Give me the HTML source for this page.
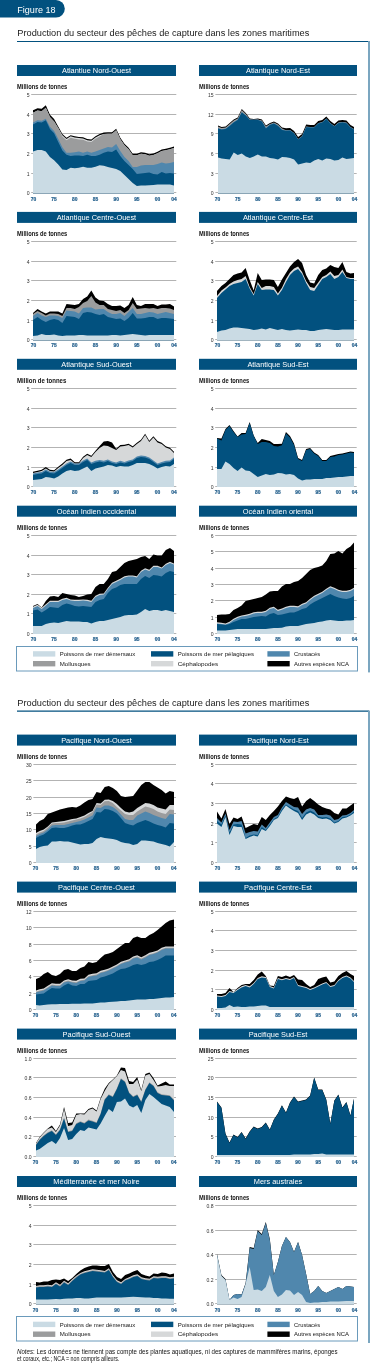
<!DOCTYPE html>
<html><head><meta charset="utf-8"><style>
html,body{margin:0;padding:0;background:#fff;}
svg{display:block;font-family:"Liberation Sans",sans-serif;will-change:transform;}
</style></head><body>
<svg width="370" height="1363" viewBox="0 0 370 1363">
<path d="M0,0 H56 A8.8,8.8 0 0 1 56,17.6 H0 Z" fill="#02517f"/>
<text x="17.3" y="12.7" font-size="9.6" fill="#fff" font-weight="normal" text-anchor="start" textLength="38.2" lengthAdjust="spacingAndGlyphs">Figure 18</text>
<text x="17.3" y="36.4" font-size="9.2" fill="#1a1a1a" font-weight="normal" text-anchor="start" textLength="292" lengthAdjust="spacingAndGlyphs">Production du secteur des pêches de capture dans les zones maritimes</text>
<line x1="17" y1="41.5" x2="369" y2="41.5" stroke="#02517f" stroke-width="1.1"/>
<rect x="368" y="41" width="2" height="631.4" fill="#7ba6c0"/>
<text x="17.3" y="706.0" font-size="9.2" fill="#1a1a1a" font-weight="normal" text-anchor="start" textLength="292" lengthAdjust="spacingAndGlyphs">Production du secteur des pêches de capture dans les zones maritimes</text>
<line x1="17" y1="711.1" x2="369" y2="711.1" stroke="#02517f" stroke-width="1.1"/>
<rect x="368" y="710.6" width="2" height="632.4044" fill="#7ba6c0"/>
<rect x="16.5" y="646.5" width="341" height="24.5" fill="none" stroke="#6a9abb" stroke-width="1"/>
<rect x="33" y="651.2" width="22.3" height="5.4" fill="#cadbe4"/>
<text x="59.7" y="656.1" font-size="6.2" fill="#151515" font-weight="normal" text-anchor="start" textLength="75.6" lengthAdjust="spacingAndGlyphs">Poissons de mer démersaux</text>
<rect x="151" y="651.2" width="22.3" height="5.4" fill="#02517f"/>
<text x="177.7" y="656.1" font-size="6.2" fill="#151515" font-weight="normal" text-anchor="start" textLength="76.4" lengthAdjust="spacingAndGlyphs">Poissons de mer pélagiques</text>
<rect x="267.4" y="651.2" width="22.3" height="5.4" fill="#5087ad"/>
<text x="294.09999999999997" y="656.1" font-size="6.2" fill="#151515" font-weight="normal" text-anchor="start" textLength="26" lengthAdjust="spacingAndGlyphs">Crustacés</text>
<rect x="33" y="661.0" width="22.3" height="5.4" fill="#9b9c9d"/>
<text x="59.7" y="665.9" font-size="6.2" fill="#151515" font-weight="normal" text-anchor="start" textLength="31" lengthAdjust="spacingAndGlyphs">Mollusques</text>
<rect x="151" y="661.0" width="22.3" height="5.4" fill="#d6d8d9"/>
<text x="177.7" y="665.9" font-size="6.2" fill="#151515" font-weight="normal" text-anchor="start" textLength="40.5" lengthAdjust="spacingAndGlyphs">Céphalopodes</text>
<rect x="267.4" y="661.0" width="22.3" height="5.4" fill="#000000"/>
<text x="294.09999999999997" y="665.9" font-size="6.2" fill="#151515" font-weight="normal" text-anchor="start" textLength="54.8" lengthAdjust="spacingAndGlyphs">Autres espèces NCA</text>
<rect x="16.5" y="1316.5" width="341" height="24.5" fill="none" stroke="#6a9abb" stroke-width="1"/>
<rect x="33" y="1321.7" width="22.3" height="5.4" fill="#cadbe4"/>
<text x="59.7" y="1326.6000000000001" font-size="6.2" fill="#151515" font-weight="normal" text-anchor="start" textLength="75.6" lengthAdjust="spacingAndGlyphs">Poissons de mer démersaux</text>
<rect x="151" y="1321.7" width="22.3" height="5.4" fill="#02517f"/>
<text x="177.7" y="1326.6000000000001" font-size="6.2" fill="#151515" font-weight="normal" text-anchor="start" textLength="76.4" lengthAdjust="spacingAndGlyphs">Poissons de mer pélagiques</text>
<rect x="267.4" y="1321.7" width="22.3" height="5.4" fill="#5087ad"/>
<text x="294.09999999999997" y="1326.6000000000001" font-size="6.2" fill="#151515" font-weight="normal" text-anchor="start" textLength="26" lengthAdjust="spacingAndGlyphs">Crustacés</text>
<rect x="33" y="1331.5" width="22.3" height="5.4" fill="#9b9c9d"/>
<text x="59.7" y="1336.4" font-size="6.2" fill="#151515" font-weight="normal" text-anchor="start" textLength="31" lengthAdjust="spacingAndGlyphs">Mollusques</text>
<rect x="151" y="1331.5" width="22.3" height="5.4" fill="#d6d8d9"/>
<text x="177.7" y="1336.4" font-size="6.2" fill="#151515" font-weight="normal" text-anchor="start" textLength="40.5" lengthAdjust="spacingAndGlyphs">Céphalopodes</text>
<rect x="267.4" y="1331.5" width="22.3" height="5.4" fill="#000000"/>
<text x="294.09999999999997" y="1336.4" font-size="6.2" fill="#151515" font-weight="normal" text-anchor="start" textLength="54.8" lengthAdjust="spacingAndGlyphs">Autres espèces NCA</text>
<rect x="17" y="65" width="159" height="11" fill="#02517f"/>
<text x="96.5" y="72.9" font-size="7.4" fill="#fff" font-weight="normal" text-anchor="middle">Atlantiue Nord-Ouest</text>
<text x="17" y="89.0" font-size="6.3" fill="#111" font-weight="bold" text-anchor="start" textLength="50.3" lengthAdjust="spacingAndGlyphs">Millions de tonnes</text>
<line x1="31.2" y1="192.5" x2="33" y2="192.5" stroke="#b3b3b3" stroke-width="1"/>
<line x1="174" y1="192.5" x2="176.29999999999998" y2="192.5" stroke="#b3b3b3" stroke-width="1"/>
<text x="29.5" y="195.0" font-size="5.1" fill="#333" font-weight="normal" text-anchor="end">0</text>
<line x1="31.2" y1="173.5" x2="176.29999999999998" y2="173.5" stroke="#b3b3b3" stroke-width="1"/>
<text x="29.5" y="176.0" font-size="5.1" fill="#333" font-weight="normal" text-anchor="end">1</text>
<line x1="31.2" y1="153.5" x2="176.29999999999998" y2="153.5" stroke="#b3b3b3" stroke-width="1"/>
<text x="29.5" y="156.0" font-size="5.1" fill="#333" font-weight="normal" text-anchor="end">2</text>
<line x1="31.2" y1="133.5" x2="176.29999999999998" y2="133.5" stroke="#b3b3b3" stroke-width="1"/>
<text x="29.5" y="136.0" font-size="5.1" fill="#333" font-weight="normal" text-anchor="end">3</text>
<line x1="31.2" y1="114.5" x2="176.29999999999998" y2="114.5" stroke="#b3b3b3" stroke-width="1"/>
<text x="29.5" y="117.0" font-size="5.1" fill="#333" font-weight="normal" text-anchor="end">4</text>
<line x1="31.2" y1="94.5" x2="176.29999999999998" y2="94.5" stroke="#b3b3b3" stroke-width="1"/>
<text x="29.5" y="97.0" font-size="5.1" fill="#333" font-weight="normal" text-anchor="end">5</text>
<polygon points="33,193.30 33.00,110.34 37.54,108.18 41.68,108.83 45.81,105.37 49.95,114.66 54.09,118.99 58.23,126.56 62.37,134.12 66.51,137.80 70.64,135.21 74.78,136.29 78.92,136.94 83.06,137.37 87.20,139.10 91.34,139.53 95.47,136.29 99.61,134.12 103.75,132.61 107.89,132.20 112.03,132.20 116.16,128.80 120.30,137.80 124.44,143.80 128.58,147.80 132.72,153.80 136.86,153.80 140.99,152.20 145.13,152.80 149.27,154.20 153.41,153.40 157.55,151.80 161.69,149.40 165.82,148.80 169.96,147.80 174.00,146.40 174,193.30" fill="#000000"/>
<polygon points="33,193.30 33.00,112.74 37.54,110.58 41.68,111.23 45.81,107.77 49.95,117.06 54.09,121.39 58.23,128.06 62.37,135.22 66.51,138.90 70.64,136.31 74.78,137.39 78.92,138.04 83.06,138.47 87.20,140.20 91.34,140.63 95.47,137.39 99.61,135.22 103.75,134.11 107.89,133.70 112.03,133.70 116.16,130.30 120.30,139.30 124.44,145.30 128.58,149.30 132.72,155.30 136.86,155.30 140.99,153.70 145.13,154.30 149.27,155.70 153.41,154.90 157.55,153.30 161.69,150.90 165.82,150.30 169.96,149.30 174.00,147.90 174,193.30" fill="#d6d8d9"/>
<polygon points="33,193.30 33.00,112.74 37.54,110.58 41.68,111.23 45.81,107.77 49.95,117.06 54.09,121.39 58.23,128.06 62.37,136.62 66.51,140.30 70.64,137.71 74.78,138.79 78.92,139.44 83.06,139.87 87.20,141.60 91.34,142.03 95.47,138.79 99.61,136.62 103.75,134.11 107.89,133.70 112.03,133.70 116.16,130.30 120.30,139.30 124.44,145.30 128.58,149.30 132.72,155.30 136.86,155.30 140.99,153.70 145.13,154.30 149.27,155.70 153.41,154.90 157.55,153.30 161.69,150.90 165.82,150.30 169.96,149.30 174.00,147.90 174,193.30" fill="#9b9c9d"/>
<polygon points="33,193.30 33.00,122.43 37.54,120.27 41.68,120.70 45.81,118.76 49.95,126.76 54.09,131.08 58.23,138.65 62.37,147.30 66.51,152.70 70.64,152.70 74.78,152.27 78.92,151.62 83.06,152.70 87.20,151.62 91.34,152.70 95.47,151.62 99.61,150.11 103.75,148.38 107.89,147.00 112.03,147.60 116.16,144.00 120.30,151.00 124.44,157.00 128.58,161.00 132.72,167.00 136.86,167.00 140.99,165.60 145.13,165.00 149.27,165.00 153.41,165.00 157.55,164.00 161.69,162.40 165.82,163.60 169.96,163.00 174.00,162.00 174,193.30" fill="#5087ad"/>
<polygon points="33,193.30 33.00,124.59 37.54,122.00 41.68,122.43 45.81,120.27 49.95,128.92 54.09,133.24 58.23,141.89 62.37,150.54 66.51,154.86 70.64,155.95 74.78,155.51 78.92,155.51 83.06,155.95 87.20,154.86 91.34,155.95 95.47,155.95 99.61,154.86 103.75,152.70 107.89,151.60 112.03,152.00 116.16,149.60 120.30,156.00 124.44,161.00 128.58,165.00 132.72,169.00 136.86,174.00 140.99,173.60 145.13,173.00 149.27,172.40 153.41,174.00 157.55,174.40 161.69,172.00 165.82,173.60 169.96,173.00 174.00,173.60 174,193.30" fill="#02517f"/>
<polygon points="33,193.30 33.00,151.62 37.54,150.11 41.68,150.11 45.81,151.62 49.95,157.03 54.09,160.27 58.23,164.59 62.37,169.57 66.51,170.00 70.64,167.84 74.78,168.27 78.92,167.84 83.06,166.76 87.20,167.84 91.34,167.84 95.47,166.76 99.61,165.24 103.75,165.68 107.89,167.00 112.03,168.00 116.16,169.00 120.30,171.00 124.44,175.00 128.58,179.00 132.72,183.00 136.86,186.00 140.99,185.60 145.13,185.60 149.27,185.20 153.41,185.00 157.55,184.60 161.69,184.60 165.82,184.60 169.96,184.60 174.00,185.60 174,193.30" fill="#cadbe4"/>
<text x="33.4" y="200.5" font-size="4.9" fill="#235f8c" font-weight="bold" text-anchor="middle" stroke="#235f8c" stroke-width="0.2">70</text>
<text x="54.09117647058824" y="200.5" font-size="4.9" fill="#235f8c" font-weight="bold" text-anchor="middle" stroke="#235f8c" stroke-width="0.2">75</text>
<text x="74.78235294117647" y="200.5" font-size="4.9" fill="#235f8c" font-weight="bold" text-anchor="middle" stroke="#235f8c" stroke-width="0.2">80</text>
<text x="95.4735294117647" y="200.5" font-size="4.9" fill="#235f8c" font-weight="bold" text-anchor="middle" stroke="#235f8c" stroke-width="0.2">85</text>
<text x="116.16470588235293" y="200.5" font-size="4.9" fill="#235f8c" font-weight="bold" text-anchor="middle" stroke="#235f8c" stroke-width="0.2">90</text>
<text x="136.85588235294117" y="200.5" font-size="4.9" fill="#235f8c" font-weight="bold" text-anchor="middle" stroke="#235f8c" stroke-width="0.2">95</text>
<text x="157.5470588235294" y="200.5" font-size="4.9" fill="#235f8c" font-weight="bold" text-anchor="middle" stroke="#235f8c" stroke-width="0.2">00</text>
<text x="174.1" y="200.5" font-size="4.9" fill="#235f8c" font-weight="bold" text-anchor="middle" stroke="#235f8c" stroke-width="0.2">04</text>
<rect x="199" y="65" width="158" height="11" fill="#02517f"/>
<text x="278.0" y="72.9" font-size="7.4" fill="#fff" font-weight="normal" text-anchor="middle">Atlantique Nord-Est</text>
<text x="199" y="89.0" font-size="6.3" fill="#111" font-weight="bold" text-anchor="start" textLength="50.3" lengthAdjust="spacingAndGlyphs">Millions de tonnes</text>
<line x1="215.4" y1="192.5" x2="218" y2="192.5" stroke="#b3b3b3" stroke-width="1"/>
<line x1="354" y1="192.5" x2="356.7" y2="192.5" stroke="#b3b3b3" stroke-width="1"/>
<text x="213.7" y="195.0" font-size="5.1" fill="#333" font-weight="normal" text-anchor="end">0</text>
<line x1="215.4" y1="173.5" x2="356.7" y2="173.5" stroke="#b3b3b3" stroke-width="1"/>
<text x="213.7" y="176.0" font-size="5.1" fill="#333" font-weight="normal" text-anchor="end">3</text>
<line x1="215.4" y1="153.5" x2="356.7" y2="153.5" stroke="#b3b3b3" stroke-width="1"/>
<text x="213.7" y="156.0" font-size="5.1" fill="#333" font-weight="normal" text-anchor="end">6</text>
<line x1="215.4" y1="133.5" x2="356.7" y2="133.5" stroke="#b3b3b3" stroke-width="1"/>
<text x="213.7" y="136.0" font-size="5.1" fill="#333" font-weight="normal" text-anchor="end">9</text>
<line x1="215.4" y1="114.5" x2="356.7" y2="114.5" stroke="#b3b3b3" stroke-width="1"/>
<text x="213.7" y="117.0" font-size="5.1" fill="#333" font-weight="normal" text-anchor="end">12</text>
<line x1="215.4" y1="94.5" x2="356.7" y2="94.5" stroke="#b3b3b3" stroke-width="1"/>
<text x="213.7" y="97.0" font-size="5.1" fill="#333" font-weight="normal" text-anchor="end">15</text>
<polygon points="218,193.30 218.00,125.60 221.63,127.00 225.65,126.40 229.68,123.00 233.71,119.40 237.73,117.60 241.76,109.00 245.79,113.00 249.81,118.40 253.84,119.00 257.86,118.60 261.89,119.60 265.92,125.60 269.94,123.00 273.97,121.40 278.00,123.60 282.02,127.60 286.05,128.20 290.08,128.00 294.10,131.00 298.13,137.00 302.16,134.00 306.18,124.60 310.21,125.00 314.24,125.00 318.26,121.00 322.29,120.00 326.31,116.40 330.34,121.00 334.37,124.00 338.39,120.60 342.42,120.00 346.45,120.60 350.47,125.00 354.00,127.00 354,193.30" fill="#000000"/>
<polygon points="218,193.30 218.00,126.60 221.63,128.00 225.65,127.40 229.68,124.00 233.71,120.40 237.73,118.60 241.76,110.00 245.79,114.00 249.81,119.40 253.84,120.00 257.86,119.60 261.89,120.60 265.92,126.60 269.94,124.00 273.97,122.40 278.00,124.60 282.02,128.60 286.05,130.20 290.08,130.00 294.10,133.00 298.13,139.00 302.16,136.00 306.18,126.60 310.21,127.00 314.24,127.00 318.26,123.00 322.29,122.00 326.31,118.40 330.34,123.00 334.37,126.00 338.39,122.60 342.42,122.00 346.45,122.60 350.47,127.00 354.00,129.00 354,193.30" fill="#9b9c9d"/>
<polygon points="218,193.30 218.00,128.20 221.63,129.20 225.65,128.60 229.68,125.60 233.71,122.00 237.73,119.60 241.76,112.00 245.79,115.20 249.81,119.60 253.84,119.60 257.86,119.60 261.89,121.20 265.92,128.00 269.94,124.60 273.97,123.20 278.00,125.60 282.02,129.60 286.05,130.40 290.08,130.20 294.10,133.20 298.13,139.20 302.16,136.20 306.18,126.80 310.21,127.20 314.24,127.20 318.26,123.20 322.29,122.20 326.31,118.60 330.34,123.20 334.37,126.20 338.39,122.80 342.42,122.20 346.45,122.80 350.47,127.20 354.00,129.20 354,193.30" fill="#5087ad"/>
<polygon points="218,193.30 218.00,128.60 221.63,129.60 225.65,129.00 229.68,126.00 233.71,122.40 237.73,120.00 241.76,112.40 245.79,115.60 249.81,120.00 253.84,120.00 257.86,120.00 261.89,121.60 265.92,128.40 269.94,125.00 273.97,123.60 278.00,126.00 282.02,130.00 286.05,130.80 290.08,130.60 294.10,133.60 298.13,139.60 302.16,136.60 306.18,127.20 310.21,127.60 314.24,127.60 318.26,123.60 322.29,122.60 326.31,119.00 330.34,123.60 334.37,126.60 338.39,123.20 342.42,122.60 346.45,123.20 350.47,127.60 354.00,129.60 354,193.30" fill="#02517f"/>
<polygon points="218,193.30 218.00,157.60 221.63,158.40 225.65,159.00 229.68,159.40 233.71,152.40 237.73,155.00 241.76,153.60 245.79,156.40 249.81,158.00 253.84,156.40 257.86,154.40 261.89,156.40 265.92,156.40 269.94,158.00 273.97,158.40 278.00,159.40 282.02,157.00 286.05,157.30 290.08,158.00 294.10,159.60 298.13,164.40 302.16,163.60 306.18,162.40 310.21,163.00 314.24,160.40 318.26,159.00 322.29,160.40 326.31,158.40 330.34,159.00 334.37,160.40 338.39,160.00 342.42,157.60 346.45,159.00 350.47,158.40 354.00,158.00 354,193.30" fill="#cadbe4"/>
<text x="217.6" y="200.5" font-size="4.9" fill="#235f8c" font-weight="bold" text-anchor="middle" stroke="#235f8c" stroke-width="0.2">70</text>
<text x="237.73235294117646" y="200.5" font-size="4.9" fill="#235f8c" font-weight="bold" text-anchor="middle" stroke="#235f8c" stroke-width="0.2">75</text>
<text x="257.86470588235295" y="200.5" font-size="4.9" fill="#235f8c" font-weight="bold" text-anchor="middle" stroke="#235f8c" stroke-width="0.2">80</text>
<text x="277.9970588235294" y="200.5" font-size="4.9" fill="#235f8c" font-weight="bold" text-anchor="middle" stroke="#235f8c" stroke-width="0.2">85</text>
<text x="298.1294117647059" y="200.5" font-size="4.9" fill="#235f8c" font-weight="bold" text-anchor="middle" stroke="#235f8c" stroke-width="0.2">90</text>
<text x="318.26176470588234" y="200.5" font-size="4.9" fill="#235f8c" font-weight="bold" text-anchor="middle" stroke="#235f8c" stroke-width="0.2">95</text>
<text x="338.3941176470588" y="200.5" font-size="4.9" fill="#235f8c" font-weight="bold" text-anchor="middle" stroke="#235f8c" stroke-width="0.2">00</text>
<text x="354.5" y="200.5" font-size="4.9" fill="#235f8c" font-weight="bold" text-anchor="middle" stroke="#235f8c" stroke-width="0.2">04</text>
<rect x="17" y="211.9" width="159" height="11" fill="#02517f"/>
<text x="96.5" y="219.8" font-size="7.4" fill="#fff" font-weight="normal" text-anchor="middle">Atlantique Centre-Ouest</text>
<text x="17" y="235.9" font-size="6.3" fill="#111" font-weight="bold" text-anchor="start" textLength="50.3" lengthAdjust="spacingAndGlyphs">Millions de tonnes</text>
<line x1="31.2" y1="339.5" x2="33" y2="339.5" stroke="#b3b3b3" stroke-width="1"/>
<line x1="174" y1="339.5" x2="176.29999999999998" y2="339.5" stroke="#b3b3b3" stroke-width="1"/>
<text x="29.5" y="342.0" font-size="5.1" fill="#333" font-weight="normal" text-anchor="end">0</text>
<line x1="31.2" y1="320.5" x2="176.29999999999998" y2="320.5" stroke="#b3b3b3" stroke-width="1"/>
<text x="29.5" y="323.0" font-size="5.1" fill="#333" font-weight="normal" text-anchor="end">1</text>
<line x1="31.2" y1="300.5" x2="176.29999999999998" y2="300.5" stroke="#b3b3b3" stroke-width="1"/>
<text x="29.5" y="303.0" font-size="5.1" fill="#333" font-weight="normal" text-anchor="end">2</text>
<line x1="31.2" y1="280.5" x2="176.29999999999998" y2="280.5" stroke="#b3b3b3" stroke-width="1"/>
<text x="29.5" y="283.0" font-size="5.1" fill="#333" font-weight="normal" text-anchor="end">3</text>
<line x1="31.2" y1="261.5" x2="176.29999999999998" y2="261.5" stroke="#b3b3b3" stroke-width="1"/>
<text x="29.5" y="264.0" font-size="5.1" fill="#333" font-weight="normal" text-anchor="end">4</text>
<line x1="31.2" y1="241.5" x2="176.29999999999998" y2="241.5" stroke="#b3b3b3" stroke-width="1"/>
<text x="29.5" y="244.0" font-size="5.1" fill="#333" font-weight="normal" text-anchor="end">5</text>
<polygon points="33,340.20 33.00,313.00 37.54,309.00 41.68,311.40 45.81,313.40 49.95,311.40 54.09,311.40 58.23,311.40 62.37,313.40 66.51,304.00 70.64,304.60 74.78,305.00 78.92,304.00 83.06,299.00 87.20,296.60 91.34,290.60 95.47,297.40 99.61,300.60 103.75,301.00 107.89,304.00 112.03,306.00 116.16,306.00 120.30,305.40 124.44,308.00 128.58,305.00 132.72,297.00 136.86,305.00 140.99,306.00 145.13,304.00 149.27,304.00 153.41,304.00 157.55,306.00 161.69,304.60 165.82,304.60 169.96,304.00 174.00,306.60 174,340.20" fill="#000000"/>
<polygon points="33,340.20 33.00,314.00 37.54,311.00 41.68,313.00 45.81,315.40 49.95,313.40 54.09,313.40 58.23,314.00 62.37,316.00 66.51,308.00 70.64,308.00 74.78,309.00 78.92,307.00 83.06,303.00 87.20,301.00 91.34,296.00 95.47,302.60 99.61,305.00 103.75,305.00 107.89,309.00 112.03,310.00 116.16,311.00 120.30,310.00 124.44,313.00 128.58,310.00 132.72,303.00 136.86,309.00 140.99,308.60 145.13,308.00 149.27,308.60 153.41,308.00 157.55,309.00 161.69,308.00 165.82,308.00 169.96,308.60 174.00,310.00 174,340.20" fill="#9b9c9d"/>
<polygon points="33,340.20 33.00,316.00 37.54,313.00 41.68,315.40 45.81,317.00 49.95,315.40 54.09,315.40 58.23,316.00 62.37,318.00 66.51,310.60 70.64,311.00 74.78,311.40 78.92,313.40 83.06,308.00 87.20,307.40 91.34,307.40 95.47,309.40 99.61,309.00 103.75,309.00 107.89,312.00 112.03,314.00 116.16,314.00 120.30,313.00 124.44,316.00 128.58,312.00 132.72,308.00 136.86,314.00 140.99,314.00 145.13,313.00 149.27,312.00 153.41,312.60 157.55,314.00 161.69,313.00 165.82,312.00 169.96,313.00 174.00,314.00 174,340.20" fill="#5087ad"/>
<polygon points="33,340.20 33.00,320.00 37.54,317.00 41.68,320.00 45.81,322.00 49.95,320.00 54.09,319.00 58.23,320.00 62.37,323.00 66.51,316.00 70.64,316.60 74.78,317.00 78.92,319.00 83.06,313.00 87.20,312.00 91.34,312.60 95.47,314.00 99.61,315.00 103.75,314.00 107.89,317.00 112.03,318.00 116.16,319.00 120.30,318.60 124.44,321.00 128.58,318.00 132.72,313.00 136.86,318.60 140.99,318.60 145.13,318.00 149.27,317.00 153.41,317.00 157.55,319.00 161.69,318.00 165.82,318.00 169.96,318.60 174.00,319.00 174,340.20" fill="#02517f"/>
<polygon points="33,340.20 33.00,336.00 37.54,335.40 41.68,334.00 45.81,335.00 49.95,335.00 54.09,334.40 58.23,335.40 62.37,336.00 66.51,335.60 70.64,335.60 74.78,335.40 78.92,335.00 83.06,335.00 87.20,335.40 91.34,335.40 95.47,335.60 99.61,335.60 103.75,335.40 107.89,335.40 112.03,335.00 116.16,335.00 120.30,335.40 124.44,335.00 128.58,334.60 132.72,334.00 136.86,334.60 140.99,335.00 145.13,335.40 149.27,335.00 153.41,335.00 157.55,335.00 161.69,335.00 165.82,335.00 169.96,335.00 174.00,335.00 174,340.20" fill="#cadbe4"/>
<text x="33.4" y="347.4" font-size="4.9" fill="#235f8c" font-weight="bold" text-anchor="middle" stroke="#235f8c" stroke-width="0.2">70</text>
<text x="54.09117647058824" y="347.4" font-size="4.9" fill="#235f8c" font-weight="bold" text-anchor="middle" stroke="#235f8c" stroke-width="0.2">75</text>
<text x="74.78235294117647" y="347.4" font-size="4.9" fill="#235f8c" font-weight="bold" text-anchor="middle" stroke="#235f8c" stroke-width="0.2">80</text>
<text x="95.4735294117647" y="347.4" font-size="4.9" fill="#235f8c" font-weight="bold" text-anchor="middle" stroke="#235f8c" stroke-width="0.2">85</text>
<text x="116.16470588235293" y="347.4" font-size="4.9" fill="#235f8c" font-weight="bold" text-anchor="middle" stroke="#235f8c" stroke-width="0.2">90</text>
<text x="136.85588235294117" y="347.4" font-size="4.9" fill="#235f8c" font-weight="bold" text-anchor="middle" stroke="#235f8c" stroke-width="0.2">95</text>
<text x="157.5470588235294" y="347.4" font-size="4.9" fill="#235f8c" font-weight="bold" text-anchor="middle" stroke="#235f8c" stroke-width="0.2">00</text>
<text x="174.1" y="347.4" font-size="4.9" fill="#235f8c" font-weight="bold" text-anchor="middle" stroke="#235f8c" stroke-width="0.2">04</text>
<rect x="199" y="211.9" width="158" height="11" fill="#02517f"/>
<text x="278.0" y="219.8" font-size="7.4" fill="#fff" font-weight="normal" text-anchor="middle">Atlantique Centre-Est</text>
<text x="199" y="235.9" font-size="6.3" fill="#111" font-weight="bold" text-anchor="start" textLength="50.3" lengthAdjust="spacingAndGlyphs">Millions de tonnes</text>
<line x1="215.20000000000002" y1="339.5" x2="217" y2="339.5" stroke="#b3b3b3" stroke-width="1"/>
<line x1="354" y1="339.5" x2="356.7" y2="339.5" stroke="#b3b3b3" stroke-width="1"/>
<text x="213.5" y="342.0" font-size="5.1" fill="#333" font-weight="normal" text-anchor="end">0</text>
<line x1="215.20000000000002" y1="320.5" x2="356.7" y2="320.5" stroke="#b3b3b3" stroke-width="1"/>
<text x="213.5" y="323.0" font-size="5.1" fill="#333" font-weight="normal" text-anchor="end">1</text>
<line x1="215.20000000000002" y1="300.5" x2="356.7" y2="300.5" stroke="#b3b3b3" stroke-width="1"/>
<text x="213.5" y="303.0" font-size="5.1" fill="#333" font-weight="normal" text-anchor="end">2</text>
<line x1="215.20000000000002" y1="280.5" x2="356.7" y2="280.5" stroke="#b3b3b3" stroke-width="1"/>
<text x="213.5" y="283.0" font-size="5.1" fill="#333" font-weight="normal" text-anchor="end">3</text>
<line x1="215.20000000000002" y1="261.5" x2="356.7" y2="261.5" stroke="#b3b3b3" stroke-width="1"/>
<text x="213.5" y="264.0" font-size="5.1" fill="#333" font-weight="normal" text-anchor="end">4</text>
<line x1="215.20000000000002" y1="241.5" x2="356.7" y2="241.5" stroke="#b3b3b3" stroke-width="1"/>
<text x="213.5" y="244.0" font-size="5.1" fill="#333" font-weight="normal" text-anchor="end">5</text>
<polygon points="217,340.20 217.00,291.00 221.43,286.00 225.46,283.00 229.50,279.00 233.53,275.00 237.56,273.40 241.59,272.60 245.63,268.00 249.66,280.00 253.69,290.60 257.72,273.00 261.76,280.00 265.79,279.40 269.82,279.40 273.85,280.00 277.89,287.00 281.92,279.50 285.95,273.00 289.98,266.60 294.01,262.00 298.05,259.00 302.08,263.00 306.11,275.00 310.14,282.60 314.18,283.40 318.21,275.00 322.24,270.00 326.27,268.60 330.31,265.00 334.34,267.00 338.37,268.00 342.40,262.00 346.44,272.00 350.47,273.40 354.00,273.00 354,340.20" fill="#000000"/>
<polygon points="217,340.20 217.00,296.00 221.43,290.60 225.46,287.40 229.50,284.00 233.53,281.40 237.56,280.00 241.59,279.00 245.63,276.00 249.66,287.00 253.69,294.00 257.72,282.00 261.76,288.00 265.79,286.00 269.82,286.00 273.85,287.00 277.89,293.40 281.92,287.70 285.95,279.00 289.98,272.60 294.01,268.60 298.05,266.60 302.08,272.00 306.11,281.00 310.14,287.00 314.18,288.00 318.21,282.60 322.24,277.00 326.27,275.00 330.31,271.40 334.34,276.00 338.37,275.00 342.40,269.40 346.44,277.00 350.47,278.00 354.00,278.00 354,340.20" fill="#d6d8d9"/>
<polygon points="217,340.20 217.00,298.00 221.43,293.00 225.46,289.40 229.50,286.00 233.53,284.00 237.56,283.00 241.59,282.00 245.63,279.00 249.66,288.60 253.69,295.40 257.72,284.00 261.76,290.00 265.79,289.40 269.82,289.40 273.85,290.00 277.89,295.40 281.92,290.00 285.95,282.00 289.98,275.00 294.01,271.00 298.05,269.00 302.08,274.00 306.11,283.00 310.14,290.00 314.18,291.00 318.21,285.00 322.24,279.00 326.27,277.00 330.31,274.00 334.34,279.00 338.37,277.00 342.40,272.00 346.44,278.00 350.47,279.00 354.00,279.00 354,340.20" fill="#02517f"/>
<polygon points="217,340.20 217.00,332.00 221.43,330.60 225.46,330.00 229.50,328.60 233.53,327.40 237.56,327.40 241.59,328.00 245.63,328.60 249.66,329.00 253.69,330.00 257.72,329.40 261.76,328.60 265.79,329.40 269.82,328.00 273.85,329.00 277.89,330.00 281.92,329.00 285.95,330.00 289.98,330.60 294.01,330.00 298.05,329.40 302.08,330.00 306.11,330.00 310.14,331.00 314.18,331.00 318.21,330.00 322.24,329.40 326.27,329.00 330.31,329.40 334.34,330.00 338.37,330.00 342.40,329.60 346.44,329.40 350.47,329.40 354.00,329.40 354,340.20" fill="#cadbe4"/>
<text x="217.4" y="347.4" font-size="4.9" fill="#235f8c" font-weight="bold" text-anchor="middle" stroke="#235f8c" stroke-width="0.2">70</text>
<text x="237.56176470588235" y="347.4" font-size="4.9" fill="#235f8c" font-weight="bold" text-anchor="middle" stroke="#235f8c" stroke-width="0.2">75</text>
<text x="257.72352941176473" y="347.4" font-size="4.9" fill="#235f8c" font-weight="bold" text-anchor="middle" stroke="#235f8c" stroke-width="0.2">80</text>
<text x="277.88529411764705" y="347.4" font-size="4.9" fill="#235f8c" font-weight="bold" text-anchor="middle" stroke="#235f8c" stroke-width="0.2">85</text>
<text x="298.0470588235294" y="347.4" font-size="4.9" fill="#235f8c" font-weight="bold" text-anchor="middle" stroke="#235f8c" stroke-width="0.2">90</text>
<text x="318.2088235294118" y="347.4" font-size="4.9" fill="#235f8c" font-weight="bold" text-anchor="middle" stroke="#235f8c" stroke-width="0.2">95</text>
<text x="338.3705882352941" y="347.4" font-size="4.9" fill="#235f8c" font-weight="bold" text-anchor="middle" stroke="#235f8c" stroke-width="0.2">00</text>
<text x="354.5" y="347.4" font-size="4.9" fill="#235f8c" font-weight="bold" text-anchor="middle" stroke="#235f8c" stroke-width="0.2">04</text>
<rect x="17" y="358.8" width="159" height="11" fill="#02517f"/>
<text x="96.5" y="366.7" font-size="7.4" fill="#fff" font-weight="normal" text-anchor="middle">Atlantique Sud-Ouest</text>
<text x="17" y="382.8" font-size="6.3" fill="#111" font-weight="bold" text-anchor="start" textLength="49.3" lengthAdjust="spacingAndGlyphs">Million de tonnes</text>
<line x1="31.2" y1="486.5" x2="33" y2="486.5" stroke="#b3b3b3" stroke-width="1"/>
<line x1="174" y1="486.5" x2="176.29999999999998" y2="486.5" stroke="#b3b3b3" stroke-width="1"/>
<text x="29.5" y="489.0" font-size="5.1" fill="#333" font-weight="normal" text-anchor="end">0</text>
<line x1="31.2" y1="467.5" x2="176.29999999999998" y2="467.5" stroke="#b3b3b3" stroke-width="1"/>
<text x="29.5" y="470.0" font-size="5.1" fill="#333" font-weight="normal" text-anchor="end">1</text>
<line x1="31.2" y1="447.5" x2="176.29999999999998" y2="447.5" stroke="#b3b3b3" stroke-width="1"/>
<text x="29.5" y="450.0" font-size="5.1" fill="#333" font-weight="normal" text-anchor="end">2</text>
<line x1="31.2" y1="427.5" x2="176.29999999999998" y2="427.5" stroke="#b3b3b3" stroke-width="1"/>
<text x="29.5" y="430.0" font-size="5.1" fill="#333" font-weight="normal" text-anchor="end">3</text>
<line x1="31.2" y1="408.5" x2="176.29999999999998" y2="408.5" stroke="#b3b3b3" stroke-width="1"/>
<text x="29.5" y="411.0" font-size="5.1" fill="#333" font-weight="normal" text-anchor="end">4</text>
<line x1="31.2" y1="388.5" x2="176.29999999999998" y2="388.5" stroke="#b3b3b3" stroke-width="1"/>
<text x="29.5" y="391.0" font-size="5.1" fill="#333" font-weight="normal" text-anchor="end">5</text>
<polygon points="33,487.10 33.00,471.70 37.54,470.70 41.68,469.70 45.81,467.10 49.95,469.70 54.09,470.30 58.23,466.70 62.37,463.60 66.51,459.70 70.64,458.40 74.78,462.30 78.92,462.30 83.06,456.70 87.20,453.70 91.34,455.70 95.47,450.70 99.61,446.00 103.75,441.60 107.89,441.00 112.03,442.40 116.16,448.70 120.30,445.10 124.44,444.70 128.58,443.70 132.72,446.30 136.86,442.70 140.99,439.70 145.13,433.70 149.27,440.70 153.41,436.30 157.55,441.10 161.69,442.70 165.82,446.30 169.96,447.70 174.00,451.70 174,487.10" fill="#000000"/>
<polygon points="33,487.10 33.00,473.00 37.54,472.00 41.68,471.00 45.81,468.40 49.95,471.00 54.09,471.60 58.23,468.00 62.37,465.00 66.51,461.00 70.64,460.00 74.78,463.60 78.92,463.60 83.06,458.00 87.20,455.00 91.34,457.00 95.47,452.00 99.61,448.00 103.75,445.60 107.89,446.00 112.03,448.00 116.16,450.00 120.30,446.40 124.44,446.00 128.58,445.00 132.72,447.60 136.86,444.00 140.99,441.00 145.13,435.00 149.27,442.00 153.41,437.60 157.55,442.40 161.69,444.00 165.82,447.60 169.96,449.00 174.00,453.00 174,487.10" fill="#d6d8d9"/>
<polygon points="33,487.10 33.00,473.40 37.54,472.40 41.68,472.00 45.81,469.40 49.95,471.40 54.09,472.00 58.23,469.40 62.37,466.40 66.51,463.40 70.64,461.40 74.78,463.40 78.92,463.40 83.06,460.40 87.20,458.40 91.34,462.40 95.47,460.80 99.61,460.00 103.75,460.80 107.89,459.40 112.03,461.40 116.16,462.40 120.30,460.80 124.44,462.00 128.58,460.40 132.72,459.40 136.86,456.40 140.99,455.40 145.13,456.00 149.27,457.40 153.41,460.40 157.55,463.40 161.69,462.00 165.82,460.80 169.96,460.40 174.00,457.40 174,487.10" fill="#5087ad"/>
<polygon points="33,487.10 33.00,475.00 37.54,474.00 41.68,473.60 45.81,471.00 49.95,473.00 54.09,473.60 58.23,471.00 62.37,468.00 66.51,465.00 70.64,463.00 74.78,465.00 78.92,465.00 83.06,462.00 87.20,460.00 91.34,464.00 95.47,462.40 99.61,461.60 103.75,462.40 107.89,461.00 112.03,463.00 116.16,464.00 120.30,462.40 124.44,463.60 128.58,462.00 132.72,461.00 136.86,458.00 140.99,457.00 145.13,457.60 149.27,459.00 153.41,462.00 157.55,465.00 161.69,463.60 165.82,462.40 169.96,462.00 174.00,459.00 174,487.10" fill="#02517f"/>
<polygon points="33,487.10 33.00,480.00 37.54,479.60 41.68,479.00 45.81,477.00 49.95,477.60 54.09,478.40 58.23,476.40 62.37,473.60 66.51,471.00 70.64,470.00 74.78,471.00 78.92,470.40 83.06,468.40 87.20,466.40 91.34,471.00 95.47,468.40 99.61,467.60 103.75,466.40 107.89,465.00 112.03,465.60 116.16,467.00 120.30,466.00 124.44,466.40 128.58,466.40 132.72,465.00 136.86,463.00 140.99,463.00 145.13,463.00 149.27,464.00 153.41,466.00 157.55,468.40 161.69,467.00 165.82,466.00 169.96,466.40 174.00,464.00 174,487.10" fill="#cadbe4"/>
<text x="33.4" y="494.3" font-size="4.9" fill="#235f8c" font-weight="bold" text-anchor="middle" stroke="#235f8c" stroke-width="0.2">70</text>
<text x="54.09117647058824" y="494.3" font-size="4.9" fill="#235f8c" font-weight="bold" text-anchor="middle" stroke="#235f8c" stroke-width="0.2">75</text>
<text x="74.78235294117647" y="494.3" font-size="4.9" fill="#235f8c" font-weight="bold" text-anchor="middle" stroke="#235f8c" stroke-width="0.2">80</text>
<text x="95.4735294117647" y="494.3" font-size="4.9" fill="#235f8c" font-weight="bold" text-anchor="middle" stroke="#235f8c" stroke-width="0.2">85</text>
<text x="116.16470588235293" y="494.3" font-size="4.9" fill="#235f8c" font-weight="bold" text-anchor="middle" stroke="#235f8c" stroke-width="0.2">90</text>
<text x="136.85588235294117" y="494.3" font-size="4.9" fill="#235f8c" font-weight="bold" text-anchor="middle" stroke="#235f8c" stroke-width="0.2">95</text>
<text x="157.5470588235294" y="494.3" font-size="4.9" fill="#235f8c" font-weight="bold" text-anchor="middle" stroke="#235f8c" stroke-width="0.2">00</text>
<text x="174.1" y="494.3" font-size="4.9" fill="#235f8c" font-weight="bold" text-anchor="middle" stroke="#235f8c" stroke-width="0.2">04</text>
<rect x="199" y="358.8" width="158" height="11" fill="#02517f"/>
<text x="278.0" y="366.7" font-size="7.4" fill="#fff" font-weight="normal" text-anchor="middle">Atlantique Sud-Est</text>
<text x="199" y="382.8" font-size="6.3" fill="#111" font-weight="bold" text-anchor="start" textLength="50.3" lengthAdjust="spacingAndGlyphs">Millions de tonnes</text>
<line x1="215.20000000000002" y1="486.5" x2="217" y2="486.5" stroke="#b3b3b3" stroke-width="1"/>
<line x1="354" y1="486.5" x2="356.7" y2="486.5" stroke="#b3b3b3" stroke-width="1"/>
<text x="213.5" y="489.0" font-size="5.1" fill="#333" font-weight="normal" text-anchor="end">0</text>
<line x1="215.20000000000002" y1="467.5" x2="356.7" y2="467.5" stroke="#b3b3b3" stroke-width="1"/>
<text x="213.5" y="470.0" font-size="5.1" fill="#333" font-weight="normal" text-anchor="end">1</text>
<line x1="215.20000000000002" y1="447.5" x2="356.7" y2="447.5" stroke="#b3b3b3" stroke-width="1"/>
<text x="213.5" y="450.0" font-size="5.1" fill="#333" font-weight="normal" text-anchor="end">2</text>
<line x1="215.20000000000002" y1="427.5" x2="356.7" y2="427.5" stroke="#b3b3b3" stroke-width="1"/>
<text x="213.5" y="430.0" font-size="5.1" fill="#333" font-weight="normal" text-anchor="end">3</text>
<line x1="215.20000000000002" y1="408.5" x2="356.7" y2="408.5" stroke="#b3b3b3" stroke-width="1"/>
<text x="213.5" y="411.0" font-size="5.1" fill="#333" font-weight="normal" text-anchor="end">4</text>
<line x1="215.20000000000002" y1="388.5" x2="356.7" y2="388.5" stroke="#b3b3b3" stroke-width="1"/>
<text x="213.5" y="391.0" font-size="5.1" fill="#333" font-weight="normal" text-anchor="end">5</text>
<polygon points="217,487.10 217.00,438.00 221.43,438.40 225.46,429.00 229.50,425.00 233.53,431.00 237.56,436.40 241.59,433.00 245.63,433.00 249.66,422.00 253.69,435.60 257.72,443.00 261.76,439.00 265.79,440.00 269.82,441.00 273.85,444.00 277.89,444.00 281.92,443.70 285.95,432.00 289.98,436.00 294.01,443.60 298.05,458.00 302.08,460.00 306.11,449.00 310.14,448.00 314.18,452.40 318.21,455.00 322.24,460.00 326.27,460.00 330.31,456.00 334.34,455.00 338.37,454.00 342.40,453.60 346.44,452.60 350.47,451.60 354.00,452.00 354,487.10" fill="#000000"/>
<polygon points="217,487.10 217.00,438.40 221.43,440.40 225.46,430.00 229.50,426.00 233.53,432.00 237.56,437.00 241.59,434.40 245.63,434.00 249.66,423.00 253.69,436.00 257.72,444.00 261.76,442.00 265.79,442.00 269.82,443.00 273.85,446.00 277.89,446.40 281.92,445.20 285.95,433.60 289.98,437.60 294.01,445.00 298.05,459.00 302.08,461.00 306.11,450.00 310.14,449.00 314.18,453.60 318.21,456.00 322.24,461.00 326.27,461.00 330.31,457.00 334.34,456.40 338.37,455.00 342.40,454.40 346.44,453.60 350.47,452.40 354.00,453.00 354,487.10" fill="#02517f"/>
<polygon points="217,487.10 217.00,469.00 221.43,469.00 225.46,461.60 229.50,464.00 233.53,468.00 237.56,471.00 241.59,467.60 245.63,470.40 249.66,471.00 253.69,474.00 257.72,477.00 261.76,475.60 265.79,474.00 269.82,475.00 273.85,474.40 277.89,473.00 281.92,473.30 285.95,474.40 289.98,474.00 294.01,475.00 298.05,478.40 302.08,480.40 306.11,479.60 310.14,479.60 314.18,479.00 318.21,479.00 322.24,479.00 326.27,478.00 330.31,478.00 334.34,477.60 338.37,477.00 342.40,477.00 346.44,476.40 350.47,476.00 354.00,476.00 354,487.10" fill="#cadbe4"/>
<text x="217.4" y="494.3" font-size="4.9" fill="#235f8c" font-weight="bold" text-anchor="middle" stroke="#235f8c" stroke-width="0.2">70</text>
<text x="237.56176470588235" y="494.3" font-size="4.9" fill="#235f8c" font-weight="bold" text-anchor="middle" stroke="#235f8c" stroke-width="0.2">75</text>
<text x="257.72352941176473" y="494.3" font-size="4.9" fill="#235f8c" font-weight="bold" text-anchor="middle" stroke="#235f8c" stroke-width="0.2">80</text>
<text x="277.88529411764705" y="494.3" font-size="4.9" fill="#235f8c" font-weight="bold" text-anchor="middle" stroke="#235f8c" stroke-width="0.2">85</text>
<text x="298.0470588235294" y="494.3" font-size="4.9" fill="#235f8c" font-weight="bold" text-anchor="middle" stroke="#235f8c" stroke-width="0.2">90</text>
<text x="318.2088235294118" y="494.3" font-size="4.9" fill="#235f8c" font-weight="bold" text-anchor="middle" stroke="#235f8c" stroke-width="0.2">95</text>
<text x="338.3705882352941" y="494.3" font-size="4.9" fill="#235f8c" font-weight="bold" text-anchor="middle" stroke="#235f8c" stroke-width="0.2">00</text>
<text x="354.5" y="494.3" font-size="4.9" fill="#235f8c" font-weight="bold" text-anchor="middle" stroke="#235f8c" stroke-width="0.2">04</text>
<rect x="17" y="505.7" width="159" height="11" fill="#02517f"/>
<text x="96.5" y="513.6" font-size="7.4" fill="#fff" font-weight="normal" text-anchor="middle">Océan Indien occidental</text>
<text x="17" y="529.7" font-size="6.3" fill="#111" font-weight="bold" text-anchor="start" textLength="50.3" lengthAdjust="spacingAndGlyphs">Millions de tonnes</text>
<line x1="31.2" y1="633.5" x2="33" y2="633.5" stroke="#b3b3b3" stroke-width="1"/>
<line x1="174" y1="633.5" x2="176.29999999999998" y2="633.5" stroke="#b3b3b3" stroke-width="1"/>
<text x="29.5" y="636.0" font-size="5.1" fill="#333" font-weight="normal" text-anchor="end">0</text>
<line x1="31.2" y1="613.5" x2="176.29999999999998" y2="613.5" stroke="#b3b3b3" stroke-width="1"/>
<text x="29.5" y="616.0" font-size="5.1" fill="#333" font-weight="normal" text-anchor="end">1</text>
<line x1="31.2" y1="594.5" x2="176.29999999999998" y2="594.5" stroke="#b3b3b3" stroke-width="1"/>
<text x="29.5" y="597.0" font-size="5.1" fill="#333" font-weight="normal" text-anchor="end">2</text>
<line x1="31.2" y1="574.5" x2="176.29999999999998" y2="574.5" stroke="#b3b3b3" stroke-width="1"/>
<text x="29.5" y="577.0" font-size="5.1" fill="#333" font-weight="normal" text-anchor="end">3</text>
<line x1="31.2" y1="555.5" x2="176.29999999999998" y2="555.5" stroke="#b3b3b3" stroke-width="1"/>
<text x="29.5" y="558.0" font-size="5.1" fill="#333" font-weight="normal" text-anchor="end">4</text>
<line x1="31.2" y1="535.5" x2="176.29999999999998" y2="535.5" stroke="#b3b3b3" stroke-width="1"/>
<text x="29.5" y="538.0" font-size="5.1" fill="#333" font-weight="normal" text-anchor="end">5</text>
<polygon points="33,634.00 33.00,606.00 37.54,604.00 41.68,607.40 45.81,601.00 49.95,596.60 54.09,596.00 58.23,597.00 62.37,593.00 66.51,594.00 70.64,595.00 74.78,595.40 78.92,597.00 83.06,596.00 87.20,594.60 91.34,594.00 95.47,587.00 99.61,584.00 103.75,584.00 107.89,579.00 112.03,572.00 116.16,571.00 120.30,567.00 124.44,563.00 128.58,561.00 132.72,560.00 136.86,559.00 140.99,557.00 145.13,556.00 149.27,559.00 153.41,554.60 157.55,555.40 161.69,555.40 165.82,550.00 169.96,548.00 174.00,551.00 174,634.00" fill="#000000"/>
<polygon points="33,634.00 33.00,606.80 37.54,604.80 41.68,607.80 45.81,604.20 49.95,600.80 54.09,600.80 58.23,600.80 62.37,598.80 66.51,597.80 70.64,599.40 74.78,599.80 78.92,599.80 83.06,599.40 87.20,599.80 91.34,600.80 95.47,595.80 99.61,593.80 103.75,593.40 107.89,587.80 112.03,582.80 116.16,580.80 120.30,578.80 124.44,576.20 128.58,575.40 132.72,575.40 136.86,576.20 140.99,570.80 145.13,568.20 149.27,569.80 153.41,565.80 157.55,565.80 161.69,567.40 165.82,563.80 169.96,561.80 174.00,563.40 174,634.00" fill="#d6d8d9"/>
<polygon points="33,634.00 33.00,608.00 37.54,606.00 41.68,609.00 45.81,605.40 49.95,602.00 54.09,602.00 58.23,602.00 62.37,600.00 66.51,599.00 70.64,600.60 74.78,601.00 78.92,601.00 83.06,600.60 87.20,601.00 91.34,602.00 95.47,597.00 99.61,595.00 103.75,594.60 107.89,589.00 112.03,584.00 116.16,582.00 120.30,580.00 124.44,577.40 128.58,576.60 132.72,576.60 136.86,577.40 140.99,572.00 145.13,569.40 149.27,571.00 153.41,567.00 157.55,567.00 161.69,568.60 165.82,565.00 169.96,563.00 174.00,564.60 174,634.00" fill="#5087ad"/>
<polygon points="33,634.00 33.00,610.60 37.54,609.40 41.68,612.60 45.81,610.00 49.95,607.00 54.09,607.40 58.23,608.00 62.37,605.00 66.51,603.40 70.64,604.60 74.78,606.00 78.92,606.60 83.06,606.00 87.20,606.60 91.34,607.00 95.47,602.00 99.61,600.00 103.75,599.00 107.89,593.00 112.03,589.00 116.16,587.40 120.30,585.00 124.44,584.00 128.58,584.00 132.72,584.00 136.86,584.00 140.99,579.00 145.13,576.00 149.27,578.00 153.41,575.00 157.55,575.40 161.69,576.60 165.82,573.00 169.96,571.00 174.00,572.00 174,634.00" fill="#02517f"/>
<polygon points="33,634.00 33.00,626.00 37.54,626.00 41.68,626.00 45.81,624.00 49.95,623.00 54.09,622.60 58.23,623.00 62.37,622.00 66.51,621.00 70.64,621.40 74.78,621.40 78.92,621.40 83.06,622.00 87.20,622.00 91.34,623.40 95.47,622.00 99.61,621.00 103.75,621.00 107.89,620.00 112.03,619.00 116.16,618.00 120.30,617.00 124.44,615.40 128.58,615.00 132.72,615.00 136.86,614.60 140.99,612.00 145.13,609.00 149.27,611.00 153.41,610.00 157.55,610.00 161.69,611.00 165.82,610.00 169.96,611.00 174.00,612.00 174,634.00" fill="#cadbe4"/>
<text x="33.4" y="641.2" font-size="4.9" fill="#235f8c" font-weight="bold" text-anchor="middle" stroke="#235f8c" stroke-width="0.2">70</text>
<text x="54.09117647058824" y="641.2" font-size="4.9" fill="#235f8c" font-weight="bold" text-anchor="middle" stroke="#235f8c" stroke-width="0.2">75</text>
<text x="74.78235294117647" y="641.2" font-size="4.9" fill="#235f8c" font-weight="bold" text-anchor="middle" stroke="#235f8c" stroke-width="0.2">80</text>
<text x="95.4735294117647" y="641.2" font-size="4.9" fill="#235f8c" font-weight="bold" text-anchor="middle" stroke="#235f8c" stroke-width="0.2">85</text>
<text x="116.16470588235293" y="641.2" font-size="4.9" fill="#235f8c" font-weight="bold" text-anchor="middle" stroke="#235f8c" stroke-width="0.2">90</text>
<text x="136.85588235294117" y="641.2" font-size="4.9" fill="#235f8c" font-weight="bold" text-anchor="middle" stroke="#235f8c" stroke-width="0.2">95</text>
<text x="157.5470588235294" y="641.2" font-size="4.9" fill="#235f8c" font-weight="bold" text-anchor="middle" stroke="#235f8c" stroke-width="0.2">00</text>
<text x="174.1" y="641.2" font-size="4.9" fill="#235f8c" font-weight="bold" text-anchor="middle" stroke="#235f8c" stroke-width="0.2">04</text>
<rect x="199" y="505.7" width="158" height="11" fill="#02517f"/>
<text x="278.0" y="513.6" font-size="7.4" fill="#fff" font-weight="normal" text-anchor="middle">Océan Indien oriental</text>
<text x="199" y="529.7" font-size="6.3" fill="#111" font-weight="bold" text-anchor="start" textLength="50.3" lengthAdjust="spacingAndGlyphs">Millions de tonnes</text>
<line x1="215.20000000000002" y1="633.5" x2="217" y2="633.5" stroke="#b3b3b3" stroke-width="1"/>
<line x1="354" y1="633.5" x2="356.7" y2="633.5" stroke="#b3b3b3" stroke-width="1"/>
<text x="213.5" y="636.0" font-size="5.1" fill="#333" font-weight="normal" text-anchor="end">0</text>
<line x1="215.20000000000002" y1="617.5" x2="356.7" y2="617.5" stroke="#b3b3b3" stroke-width="1"/>
<text x="213.5" y="620.0" font-size="5.1" fill="#333" font-weight="normal" text-anchor="end">1</text>
<line x1="215.20000000000002" y1="600.5" x2="356.7" y2="600.5" stroke="#b3b3b3" stroke-width="1"/>
<text x="213.5" y="603.0" font-size="5.1" fill="#333" font-weight="normal" text-anchor="end">2</text>
<line x1="215.20000000000002" y1="584.5" x2="356.7" y2="584.5" stroke="#b3b3b3" stroke-width="1"/>
<text x="213.5" y="587.0" font-size="5.1" fill="#333" font-weight="normal" text-anchor="end">3</text>
<line x1="215.20000000000002" y1="568.5" x2="356.7" y2="568.5" stroke="#b3b3b3" stroke-width="1"/>
<text x="213.5" y="571.0" font-size="5.1" fill="#333" font-weight="normal" text-anchor="end">4</text>
<line x1="215.20000000000002" y1="551.5" x2="356.7" y2="551.5" stroke="#b3b3b3" stroke-width="1"/>
<text x="213.5" y="554.0" font-size="5.1" fill="#333" font-weight="normal" text-anchor="end">5</text>
<line x1="215.20000000000002" y1="535.5" x2="356.7" y2="535.5" stroke="#b3b3b3" stroke-width="1"/>
<text x="213.5" y="538.0" font-size="5.1" fill="#333" font-weight="normal" text-anchor="end">6</text>
<polygon points="217,634.00 217.00,615.00 221.43,614.60 225.46,614.60 229.50,614.00 233.53,610.00 237.56,608.00 241.59,605.40 245.63,601.00 249.66,600.00 253.69,599.00 257.72,598.00 261.76,597.00 265.79,594.60 269.82,591.40 273.85,591.00 277.89,591.00 281.92,586.50 285.95,584.00 289.98,584.00 294.01,582.00 298.05,581.00 302.08,578.00 306.11,574.00 310.14,570.00 314.18,568.00 318.21,567.00 322.24,565.40 326.27,561.00 330.31,554.00 334.34,553.40 338.37,551.00 342.40,553.40 346.44,549.00 350.47,546.60 354.00,542.60 354,634.00" fill="#000000"/>
<polygon points="217,634.00 217.00,622.20 221.43,622.80 225.46,623.40 229.50,621.80 233.53,618.80 237.56,616.80 241.59,615.40 245.63,614.80 249.66,613.80 253.69,612.20 257.72,611.80 261.76,611.80 265.79,610.80 269.82,607.80 273.85,606.80 277.89,609.80 281.92,608.50 285.95,606.80 289.98,605.80 294.01,605.80 298.05,606.20 302.08,603.80 306.11,602.20 310.14,598.80 314.18,595.80 318.21,593.80 322.24,591.80 326.27,588.80 330.31,586.20 334.34,587.80 338.37,589.80 342.40,590.80 346.44,590.80 350.47,589.80 354.00,587.80 354,634.00" fill="#d6d8d9"/>
<polygon points="217,634.00 217.00,623.40 221.43,624.00 225.46,624.60 229.50,623.00 233.53,620.00 237.56,618.00 241.59,616.60 245.63,616.00 249.66,615.00 253.69,613.40 257.72,613.00 261.76,613.00 265.79,612.00 269.82,609.00 273.85,608.00 277.89,611.00 281.92,609.70 285.95,608.00 289.98,607.00 294.01,607.00 298.05,607.40 302.08,605.00 306.11,603.40 310.14,600.00 314.18,597.00 318.21,595.00 322.24,593.00 326.27,590.00 330.31,587.40 334.34,589.00 338.37,591.00 342.40,592.00 346.44,592.00 350.47,591.00 354.00,589.00 354,634.00" fill="#5087ad"/>
<polygon points="217,634.00 217.00,624.00 221.43,624.60 225.46,625.00 229.50,624.00 233.53,622.00 237.56,620.60 241.59,619.00 245.63,619.00 249.66,618.00 253.69,617.00 257.72,616.60 261.76,616.00 265.79,616.60 269.82,614.00 273.85,613.00 277.89,615.00 281.92,614.50 285.95,613.40 289.98,612.60 294.01,612.60 298.05,611.00 302.08,609.00 306.11,608.00 310.14,604.60 314.18,602.00 318.21,600.00 322.24,598.00 326.27,596.00 330.31,594.00 334.34,596.00 338.37,597.40 342.40,598.60 346.44,599.00 350.47,598.00 354.00,596.00 354,634.00" fill="#02517f"/>
<polygon points="217,634.00 217.00,630.60 221.43,630.60 225.46,630.60 229.50,630.00 233.53,629.40 237.56,629.00 241.59,629.00 245.63,629.00 249.66,629.00 253.69,629.00 257.72,629.00 261.76,629.00 265.79,629.00 269.82,628.60 273.85,628.00 277.89,628.00 281.92,627.70 285.95,626.60 289.98,626.00 294.01,626.00 298.05,626.00 302.08,625.00 306.11,624.00 310.14,623.40 314.18,623.00 318.21,622.00 322.24,621.40 326.27,620.60 330.31,620.00 334.34,620.60 338.37,621.00 342.40,621.00 346.44,620.60 350.47,620.60 354.00,620.00 354,634.00" fill="#cadbe4"/>
<text x="217.4" y="641.2" font-size="4.9" fill="#235f8c" font-weight="bold" text-anchor="middle" stroke="#235f8c" stroke-width="0.2">70</text>
<text x="237.56176470588235" y="641.2" font-size="4.9" fill="#235f8c" font-weight="bold" text-anchor="middle" stroke="#235f8c" stroke-width="0.2">75</text>
<text x="257.72352941176473" y="641.2" font-size="4.9" fill="#235f8c" font-weight="bold" text-anchor="middle" stroke="#235f8c" stroke-width="0.2">80</text>
<text x="277.88529411764705" y="641.2" font-size="4.9" fill="#235f8c" font-weight="bold" text-anchor="middle" stroke="#235f8c" stroke-width="0.2">85</text>
<text x="298.0470588235294" y="641.2" font-size="4.9" fill="#235f8c" font-weight="bold" text-anchor="middle" stroke="#235f8c" stroke-width="0.2">90</text>
<text x="318.2088235294118" y="641.2" font-size="4.9" fill="#235f8c" font-weight="bold" text-anchor="middle" stroke="#235f8c" stroke-width="0.2">95</text>
<text x="338.3705882352941" y="641.2" font-size="4.9" fill="#235f8c" font-weight="bold" text-anchor="middle" stroke="#235f8c" stroke-width="0.2">00</text>
<text x="354.5" y="641.2" font-size="4.9" fill="#235f8c" font-weight="bold" text-anchor="middle" stroke="#235f8c" stroke-width="0.2">04</text>
<rect x="17" y="734.6" width="159" height="11" fill="#02517f"/>
<text x="96.5" y="742.5" font-size="7.4" fill="#fff" font-weight="normal" text-anchor="middle">Pacifique Nord-Ouest</text>
<text x="17" y="758.6" font-size="6.3" fill="#111" font-weight="bold" text-anchor="start" textLength="50.3" lengthAdjust="spacingAndGlyphs">Millions de tonnes</text>
<line x1="33.4" y1="862.5" x2="36" y2="862.5" stroke="#b3b3b3" stroke-width="1"/>
<line x1="174" y1="862.5" x2="176.0" y2="862.5" stroke="#b3b3b3" stroke-width="1"/>
<text x="31.700000000000003" y="865.0" font-size="5.1" fill="#333" font-weight="normal" text-anchor="end">0</text>
<line x1="33.4" y1="846.5" x2="176.0" y2="846.5" stroke="#b3b3b3" stroke-width="1"/>
<text x="31.700000000000003" y="849.0" font-size="5.1" fill="#333" font-weight="normal" text-anchor="end">5</text>
<line x1="33.4" y1="829.5" x2="176.0" y2="829.5" stroke="#b3b3b3" stroke-width="1"/>
<text x="31.700000000000003" y="832.0" font-size="5.1" fill="#333" font-weight="normal" text-anchor="end">10</text>
<line x1="33.4" y1="813.5" x2="176.0" y2="813.5" stroke="#b3b3b3" stroke-width="1"/>
<text x="31.700000000000003" y="816.0" font-size="5.1" fill="#333" font-weight="normal" text-anchor="end">15</text>
<line x1="33.4" y1="797.5" x2="176.0" y2="797.5" stroke="#b3b3b3" stroke-width="1"/>
<text x="31.700000000000003" y="800.0" font-size="5.1" fill="#333" font-weight="normal" text-anchor="end">20</text>
<line x1="33.4" y1="780.5" x2="176.0" y2="780.5" stroke="#b3b3b3" stroke-width="1"/>
<text x="31.700000000000003" y="783.0" font-size="5.1" fill="#333" font-weight="normal" text-anchor="end">25</text>
<line x1="33.4" y1="764.5" x2="176.0" y2="764.5" stroke="#b3b3b3" stroke-width="1"/>
<text x="31.700000000000003" y="767.0" font-size="5.1" fill="#333" font-weight="normal" text-anchor="end">30</text>
<polygon points="36,862.90 36.00,824.40 39.66,821.00 43.73,819.00 47.79,814.00 51.86,812.40 55.92,811.00 59.99,809.60 64.05,808.40 68.12,807.60 72.18,807.00 76.25,807.60 80.31,805.60 84.38,802.40 88.44,800.00 92.51,799.00 96.57,792.00 100.64,793.00 104.70,787.00 108.76,786.00 112.83,788.00 116.89,791.00 120.96,796.00 125.02,797.00 129.09,796.40 133.15,796.00 137.22,790.40 141.28,785.00 145.35,782.00 149.41,782.00 153.48,785.00 157.54,787.60 161.61,790.00 165.67,793.60 169.74,791.00 174.00,792.00 174,862.90" fill="#000000"/>
<polygon points="36,862.90 36.00,833.00 39.66,831.00 43.73,829.60 47.79,826.40 51.86,822.40 55.92,822.00 59.99,821.60 64.05,821.00 68.12,820.00 72.18,819.00 76.25,818.40 80.31,817.00 84.38,815.60 88.44,813.00 92.51,811.00 96.57,803.00 100.64,803.60 104.70,799.80 108.76,799.60 112.83,801.00 116.89,804.00 120.96,808.00 125.02,811.60 129.09,812.40 133.15,811.60 137.22,808.00 141.28,805.60 145.35,803.00 149.41,803.60 153.48,805.00 157.54,807.60 161.61,808.40 165.67,809.60 169.74,805.00 174.00,805.00 174,862.90" fill="#d6d8d9"/>
<polygon points="36,862.90 36.00,834.40 39.66,832.40 43.73,831.00 47.79,827.60 51.86,823.60 55.92,823.00 59.99,823.00 64.05,822.40 68.12,821.60 72.18,820.40 76.25,819.60 80.31,818.40 84.38,817.00 88.44,814.40 92.51,812.00 96.57,804.40 100.64,805.00 104.70,801.30 108.76,801.00 112.83,803.00 116.89,807.00 120.96,810.40 125.02,814.00 129.09,815.00 133.15,815.00 137.22,811.60 141.28,809.00 145.35,806.40 149.41,807.60 153.48,809.00 157.54,811.60 161.61,813.00 165.67,814.00 169.74,809.60 174.00,810.00 174,862.90" fill="#9b9c9d"/>
<polygon points="36,862.90 36.00,836.00 39.66,834.00 43.73,832.40 47.79,829.60 51.86,825.60 55.92,825.00 59.99,825.00 64.05,825.00 68.12,824.00 72.18,823.00 76.25,822.00 80.31,821.00 84.38,819.60 88.44,817.60 92.51,815.60 96.57,807.60 100.64,808.00 104.70,805.60 108.76,805.60 112.83,807.00 116.89,810.00 120.96,814.40 125.02,819.00 129.09,820.00 133.15,820.00 137.22,815.60 141.28,813.60 145.35,811.60 149.41,813.00 153.48,815.00 157.54,816.40 161.61,818.00 165.67,819.00 169.74,814.00 174.00,814.40 174,862.90" fill="#5087ad"/>
<polygon points="36,862.90 36.00,838.00 39.66,836.00 43.73,834.40 47.79,831.60 51.86,828.00 55.92,827.60 59.99,828.00 64.05,828.00 68.12,827.00 72.18,825.60 76.25,824.40 80.31,824.40 84.38,823.00 88.44,821.00 92.51,819.00 96.57,812.00 100.64,812.40 104.70,809.00 108.76,809.60 112.83,811.00 116.89,813.60 120.96,818.00 125.02,823.00 129.09,824.40 133.15,825.60 137.22,823.00 141.28,821.60 145.35,820.00 149.41,821.60 153.48,823.60 157.54,825.00 161.61,826.00 165.67,827.60 169.74,823.00 174.00,823.60 174,862.90" fill="#02517f"/>
<polygon points="36,862.90 36.00,849.00 39.66,847.00 43.73,846.00 47.79,845.60 51.86,841.60 55.92,841.60 59.99,841.00 64.05,841.60 68.12,841.60 72.18,842.40 76.25,843.60 80.31,844.40 84.38,844.00 88.44,844.00 92.51,843.00 96.57,839.00 100.64,837.00 104.70,838.00 108.76,838.40 112.83,839.00 116.89,840.00 120.96,842.00 125.02,843.00 129.09,843.60 133.15,845.00 137.22,844.00 141.28,840.40 145.35,840.40 149.41,841.00 153.48,841.60 157.54,843.00 161.61,844.00 165.67,845.00 169.74,846.40 174.00,842.00 174,862.90" fill="#cadbe4"/>
<text x="35.6" y="870.1" font-size="4.9" fill="#235f8c" font-weight="bold" text-anchor="middle" stroke="#235f8c" stroke-width="0.2">70</text>
<text x="55.92352941176471" y="870.1" font-size="4.9" fill="#235f8c" font-weight="bold" text-anchor="middle" stroke="#235f8c" stroke-width="0.2">75</text>
<text x="76.24705882352941" y="870.1" font-size="4.9" fill="#235f8c" font-weight="bold" text-anchor="middle" stroke="#235f8c" stroke-width="0.2">80</text>
<text x="96.57058823529414" y="870.1" font-size="4.9" fill="#235f8c" font-weight="bold" text-anchor="middle" stroke="#235f8c" stroke-width="0.2">85</text>
<text x="116.89411764705883" y="870.1" font-size="4.9" fill="#235f8c" font-weight="bold" text-anchor="middle" stroke="#235f8c" stroke-width="0.2">90</text>
<text x="137.21764705882353" y="870.1" font-size="4.9" fill="#235f8c" font-weight="bold" text-anchor="middle" stroke="#235f8c" stroke-width="0.2">95</text>
<text x="157.54117647058825" y="870.1" font-size="4.9" fill="#235f8c" font-weight="bold" text-anchor="middle" stroke="#235f8c" stroke-width="0.2">00</text>
<text x="173.8" y="870.1" font-size="4.9" fill="#235f8c" font-weight="bold" text-anchor="middle" stroke="#235f8c" stroke-width="0.2">04</text>
<rect x="199" y="734.6" width="158" height="11" fill="#02517f"/>
<text x="278.0" y="742.5" font-size="7.4" fill="#fff" font-weight="normal" text-anchor="middle">Pacifique Nord-Est</text>
<text x="199" y="758.6" font-size="6.3" fill="#111" font-weight="bold" text-anchor="start" textLength="50.3" lengthAdjust="spacingAndGlyphs">Millions de tonnes</text>
<line x1="215.20000000000002" y1="862.5" x2="217" y2="862.5" stroke="#b3b3b3" stroke-width="1"/>
<line x1="354" y1="862.5" x2="356.7" y2="862.5" stroke="#b3b3b3" stroke-width="1"/>
<text x="213.5" y="865.0" font-size="5.1" fill="#333" font-weight="normal" text-anchor="end">0</text>
<line x1="215.20000000000002" y1="842.5" x2="356.7" y2="842.5" stroke="#b3b3b3" stroke-width="1"/>
<text x="213.5" y="845.0" font-size="5.1" fill="#333" font-weight="normal" text-anchor="end">1</text>
<line x1="215.20000000000002" y1="823.5" x2="356.7" y2="823.5" stroke="#b3b3b3" stroke-width="1"/>
<text x="213.5" y="826.0" font-size="5.1" fill="#333" font-weight="normal" text-anchor="end">2</text>
<line x1="215.20000000000002" y1="803.5" x2="356.7" y2="803.5" stroke="#b3b3b3" stroke-width="1"/>
<text x="213.5" y="806.0" font-size="5.1" fill="#333" font-weight="normal" text-anchor="end">3</text>
<line x1="215.20000000000002" y1="783.5" x2="356.7" y2="783.5" stroke="#b3b3b3" stroke-width="1"/>
<text x="213.5" y="786.0" font-size="5.1" fill="#333" font-weight="normal" text-anchor="end">4</text>
<line x1="215.20000000000002" y1="764.5" x2="356.7" y2="764.5" stroke="#b3b3b3" stroke-width="1"/>
<text x="213.5" y="767.0" font-size="5.1" fill="#333" font-weight="normal" text-anchor="end">5</text>
<polygon points="217,862.90 217.00,811.60 221.43,818.40 225.46,809.00 229.50,824.00 233.53,817.60 237.56,819.00 241.59,816.40 245.63,828.00 249.66,826.00 253.69,824.00 257.72,825.00 261.76,817.00 265.79,820.00 269.82,815.00 273.85,811.00 277.89,806.40 281.92,801.00 285.95,796.40 289.98,798.00 294.01,799.00 298.05,797.00 302.08,806.40 306.11,801.00 310.14,798.00 314.18,801.00 318.21,804.40 322.24,807.00 326.27,808.40 330.31,809.60 334.34,813.00 338.37,814.40 342.40,808.40 346.44,808.40 350.47,805.60 354.00,803.00 354,862.90" fill="#000000"/>
<polygon points="217,862.90 217.00,818.00 221.43,822.40 225.46,813.60 229.50,830.00 233.53,821.60 237.56,822.00 241.59,821.00 245.63,833.60 249.66,832.00 253.69,831.00 257.72,831.60 261.76,824.40 265.79,828.00 269.82,822.40 273.85,817.00 277.89,815.00 281.92,807.50 285.95,802.00 289.98,804.40 294.01,807.00 298.05,807.60 302.08,814.00 306.11,809.60 310.14,808.00 314.18,809.60 318.21,815.00 322.24,815.00 326.27,814.40 330.31,815.60 334.34,820.00 338.37,819.00 342.40,815.60 346.44,815.00 350.47,813.00 354.00,810.00 354,862.90" fill="#5087ad"/>
<polygon points="217,862.90 217.00,821.00 221.43,824.40 225.46,815.60 229.50,832.40 233.53,824.40 237.56,824.00 241.59,824.40 245.63,838.00 249.66,835.60 253.69,834.40 257.72,835.00 261.76,827.00 265.79,830.00 269.82,824.40 273.85,819.00 277.89,817.00 281.92,809.30 285.95,804.40 289.98,807.00 294.01,809.60 298.05,811.00 302.08,818.00 306.11,812.40 310.14,810.40 314.18,812.40 318.21,816.40 322.24,817.60 326.27,817.00 330.31,818.40 334.34,822.40 338.37,821.00 342.40,817.00 346.44,816.40 350.47,814.40 354.00,811.60 354,862.90" fill="#02517f"/>
<polygon points="217,862.90 217.00,823.60 221.43,827.00 225.46,817.00 229.50,835.00 233.53,826.00 237.56,827.00 241.59,827.00 245.63,839.00 249.66,837.00 253.69,835.60 257.72,836.40 261.76,829.00 265.79,831.00 269.82,826.00 273.85,820.00 277.89,818.00 281.92,811.00 285.95,805.60 289.98,808.40 294.01,811.00 298.05,813.00 302.08,820.00 306.11,814.40 310.14,812.40 314.18,814.40 318.21,818.00 322.24,819.00 326.27,818.40 330.31,820.00 334.34,823.60 338.37,822.00 342.40,818.40 346.44,817.60 350.47,815.60 354.00,813.00 354,862.90" fill="#cadbe4"/>
<text x="217.4" y="870.1" font-size="4.9" fill="#235f8c" font-weight="bold" text-anchor="middle" stroke="#235f8c" stroke-width="0.2">70</text>
<text x="237.56176470588235" y="870.1" font-size="4.9" fill="#235f8c" font-weight="bold" text-anchor="middle" stroke="#235f8c" stroke-width="0.2">75</text>
<text x="257.72352941176473" y="870.1" font-size="4.9" fill="#235f8c" font-weight="bold" text-anchor="middle" stroke="#235f8c" stroke-width="0.2">80</text>
<text x="277.88529411764705" y="870.1" font-size="4.9" fill="#235f8c" font-weight="bold" text-anchor="middle" stroke="#235f8c" stroke-width="0.2">85</text>
<text x="298.0470588235294" y="870.1" font-size="4.9" fill="#235f8c" font-weight="bold" text-anchor="middle" stroke="#235f8c" stroke-width="0.2">90</text>
<text x="318.2088235294118" y="870.1" font-size="4.9" fill="#235f8c" font-weight="bold" text-anchor="middle" stroke="#235f8c" stroke-width="0.2">95</text>
<text x="338.3705882352941" y="870.1" font-size="4.9" fill="#235f8c" font-weight="bold" text-anchor="middle" stroke="#235f8c" stroke-width="0.2">00</text>
<text x="354.5" y="870.1" font-size="4.9" fill="#235f8c" font-weight="bold" text-anchor="middle" stroke="#235f8c" stroke-width="0.2">04</text>
<rect x="17" y="881.6" width="159" height="11" fill="#02517f"/>
<text x="96.5" y="889.5" font-size="7.4" fill="#fff" font-weight="normal" text-anchor="middle">Pacifique Centre-Ouest</text>
<text x="17" y="905.6" font-size="6.3" fill="#111" font-weight="bold" text-anchor="start" textLength="50.3" lengthAdjust="spacingAndGlyphs">Millions de tonnes</text>
<line x1="33.4" y1="1009.5" x2="36" y2="1009.5" stroke="#b3b3b3" stroke-width="1"/>
<line x1="174" y1="1009.5" x2="176.0" y2="1009.5" stroke="#b3b3b3" stroke-width="1"/>
<text x="31.700000000000003" y="1012.0" font-size="5.1" fill="#333" font-weight="normal" text-anchor="end">0</text>
<line x1="33.4" y1="993.5" x2="176.0" y2="993.5" stroke="#b3b3b3" stroke-width="1"/>
<text x="31.700000000000003" y="996.0" font-size="5.1" fill="#333" font-weight="normal" text-anchor="end">2</text>
<line x1="33.4" y1="976.5" x2="176.0" y2="976.5" stroke="#b3b3b3" stroke-width="1"/>
<text x="31.700000000000003" y="979.0" font-size="5.1" fill="#333" font-weight="normal" text-anchor="end">4</text>
<line x1="33.4" y1="960.5" x2="176.0" y2="960.5" stroke="#b3b3b3" stroke-width="1"/>
<text x="31.700000000000003" y="963.0" font-size="5.1" fill="#333" font-weight="normal" text-anchor="end">6</text>
<line x1="33.4" y1="944.5" x2="176.0" y2="944.5" stroke="#b3b3b3" stroke-width="1"/>
<text x="31.700000000000003" y="947.0" font-size="5.1" fill="#333" font-weight="normal" text-anchor="end">8</text>
<line x1="33.4" y1="927.5" x2="176.0" y2="927.5" stroke="#b3b3b3" stroke-width="1"/>
<text x="31.700000000000003" y="930.0" font-size="5.1" fill="#333" font-weight="normal" text-anchor="end">10</text>
<line x1="33.4" y1="911.5" x2="176.0" y2="911.5" stroke="#b3b3b3" stroke-width="1"/>
<text x="31.700000000000003" y="914.0" font-size="5.1" fill="#333" font-weight="normal" text-anchor="end">12</text>
<polygon points="36,1009.90 36.00,979.00 39.66,977.40 43.73,974.00 47.79,972.00 51.86,975.00 55.92,976.00 59.99,974.00 64.05,970.00 68.12,969.00 72.18,971.00 76.25,971.00 80.31,968.00 84.38,966.60 88.44,962.00 92.51,963.00 96.57,962.00 100.64,958.00 104.70,954.50 108.76,953.40 112.83,952.00 116.89,949.00 120.96,946.00 125.02,943.00 129.09,943.00 133.15,938.00 137.22,936.60 141.28,938.00 145.35,938.00 149.41,935.00 153.48,933.00 157.54,930.00 161.61,926.60 165.67,923.00 169.74,920.60 174.00,919.40 174,1009.90" fill="#000000"/>
<polygon points="36,1009.90 36.00,990.40 39.66,989.20 43.73,988.40 47.79,985.80 51.86,983.20 55.92,983.80 59.99,983.80 64.05,980.40 68.12,979.20 72.18,980.40 76.25,980.80 80.31,978.80 84.38,978.40 88.44,974.80 92.51,973.80 96.57,973.20 100.64,970.80 104.70,969.80 108.76,968.40 112.83,966.40 116.89,964.40 120.96,961.80 125.02,960.40 129.09,959.20 133.15,956.40 137.22,955.20 141.28,957.20 145.35,955.20 149.41,952.80 153.48,951.80 157.54,950.40 161.61,947.80 165.67,946.40 169.74,946.40 174.00,946.40 174,1009.90" fill="#d6d8d9"/>
<polygon points="36,1009.90 36.00,991.80 39.66,990.60 43.73,989.80 47.79,987.20 51.86,984.60 55.92,985.20 59.99,985.20 64.05,981.80 68.12,980.60 72.18,981.80 76.25,982.20 80.31,980.20 84.38,979.80 88.44,976.20 92.51,975.20 96.57,974.60 100.64,972.20 104.70,971.20 108.76,969.80 112.83,967.80 116.89,965.80 120.96,963.20 125.02,961.80 129.09,960.60 133.15,957.80 137.22,956.60 141.28,958.60 145.35,956.60 149.41,954.20 153.48,953.20 157.54,951.80 161.61,949.20 165.67,947.80 169.74,947.80 174.00,947.80 174,1009.90" fill="#9b9c9d"/>
<polygon points="36,1009.90 36.00,992.60 39.66,991.40 43.73,990.60 47.79,988.00 51.86,985.40 55.92,986.00 59.99,986.00 64.05,982.60 68.12,981.40 72.18,982.60 76.25,983.00 80.31,981.00 84.38,980.60 88.44,977.00 92.51,976.00 96.57,975.40 100.64,973.00 104.70,972.00 108.76,970.60 112.83,968.60 116.89,966.60 120.96,964.00 125.02,962.60 129.09,961.40 133.15,958.60 137.22,957.40 141.28,959.40 145.35,957.40 149.41,955.00 153.48,954.00 157.54,952.60 161.61,950.00 165.67,948.60 169.74,948.60 174.00,948.60 174,1009.90" fill="#5087ad"/>
<polygon points="36,1009.90 36.00,994.60 39.66,994.00 43.73,993.40 47.79,990.60 51.86,988.00 55.92,988.60 59.99,988.60 64.05,985.40 68.12,983.40 72.18,985.40 76.25,986.00 80.31,984.00 84.38,984.00 88.44,981.00 92.51,980.60 96.57,980.00 100.64,977.40 104.70,976.50 108.76,975.00 112.83,973.40 116.89,971.00 120.96,969.00 125.02,968.60 129.09,967.00 133.15,965.00 137.22,964.00 141.28,965.00 145.35,964.00 149.41,962.00 153.48,961.40 157.54,960.00 161.61,958.00 165.67,955.40 169.74,955.40 174.00,955.40 174,1009.90" fill="#02517f"/>
<polygon points="36,1009.90 36.00,1005.00 39.66,1005.40 43.73,1005.00 47.79,1004.60 51.86,1004.20 55.92,1004.20 59.99,1004.00 64.05,1004.00 68.12,1004.00 72.18,1003.80 76.25,1003.80 80.31,1003.80 84.38,1003.60 88.44,1003.40 92.51,1003.40 96.57,1003.00 100.64,1002.60 104.70,1002.40 108.76,1002.00 112.83,1001.80 116.89,1001.40 120.96,1001.00 125.02,1001.00 129.09,1000.60 133.15,1000.00 137.22,999.40 141.28,999.40 145.35,999.40 149.41,999.00 153.48,999.00 157.54,998.60 161.61,998.00 165.67,997.40 169.74,997.40 174.00,997.00 174,1009.90" fill="#cadbe4"/>
<text x="35.6" y="1017.1" font-size="4.9" fill="#235f8c" font-weight="bold" text-anchor="middle" stroke="#235f8c" stroke-width="0.2">70</text>
<text x="55.92352941176471" y="1017.1" font-size="4.9" fill="#235f8c" font-weight="bold" text-anchor="middle" stroke="#235f8c" stroke-width="0.2">75</text>
<text x="76.24705882352941" y="1017.1" font-size="4.9" fill="#235f8c" font-weight="bold" text-anchor="middle" stroke="#235f8c" stroke-width="0.2">80</text>
<text x="96.57058823529414" y="1017.1" font-size="4.9" fill="#235f8c" font-weight="bold" text-anchor="middle" stroke="#235f8c" stroke-width="0.2">85</text>
<text x="116.89411764705883" y="1017.1" font-size="4.9" fill="#235f8c" font-weight="bold" text-anchor="middle" stroke="#235f8c" stroke-width="0.2">90</text>
<text x="137.21764705882353" y="1017.1" font-size="4.9" fill="#235f8c" font-weight="bold" text-anchor="middle" stroke="#235f8c" stroke-width="0.2">95</text>
<text x="157.54117647058825" y="1017.1" font-size="4.9" fill="#235f8c" font-weight="bold" text-anchor="middle" stroke="#235f8c" stroke-width="0.2">00</text>
<text x="173.8" y="1017.1" font-size="4.9" fill="#235f8c" font-weight="bold" text-anchor="middle" stroke="#235f8c" stroke-width="0.2">04</text>
<rect x="199" y="881.6" width="158" height="11" fill="#02517f"/>
<text x="278.0" y="889.5" font-size="7.4" fill="#fff" font-weight="normal" text-anchor="middle">Pacifique Centre-Est</text>
<text x="199" y="905.6" font-size="6.3" fill="#111" font-weight="bold" text-anchor="start" textLength="50.3" lengthAdjust="spacingAndGlyphs">Millions de tonnes</text>
<line x1="215.20000000000002" y1="1009.5" x2="217" y2="1009.5" stroke="#b3b3b3" stroke-width="1"/>
<line x1="354" y1="1009.5" x2="356.7" y2="1009.5" stroke="#b3b3b3" stroke-width="1"/>
<text x="213.5" y="1012.0" font-size="5.1" fill="#333" font-weight="normal" text-anchor="end">0</text>
<line x1="215.20000000000002" y1="989.5" x2="356.7" y2="989.5" stroke="#b3b3b3" stroke-width="1"/>
<text x="213.5" y="992.0" font-size="5.1" fill="#333" font-weight="normal" text-anchor="end">1</text>
<line x1="215.20000000000002" y1="970.5" x2="356.7" y2="970.5" stroke="#b3b3b3" stroke-width="1"/>
<text x="213.5" y="973.0" font-size="5.1" fill="#333" font-weight="normal" text-anchor="end">2</text>
<line x1="215.20000000000002" y1="950.5" x2="356.7" y2="950.5" stroke="#b3b3b3" stroke-width="1"/>
<text x="213.5" y="953.0" font-size="5.1" fill="#333" font-weight="normal" text-anchor="end">3</text>
<line x1="215.20000000000002" y1="930.5" x2="356.7" y2="930.5" stroke="#b3b3b3" stroke-width="1"/>
<text x="213.5" y="933.0" font-size="5.1" fill="#333" font-weight="normal" text-anchor="end">4</text>
<line x1="215.20000000000002" y1="911.5" x2="356.7" y2="911.5" stroke="#b3b3b3" stroke-width="1"/>
<text x="213.5" y="914.0" font-size="5.1" fill="#333" font-weight="normal" text-anchor="end">5</text>
<polygon points="217,1009.90 217.00,994.00 221.43,994.00 225.46,993.00 229.50,988.00 233.53,992.00 237.56,988.00 241.59,985.00 245.63,984.00 249.66,984.00 253.69,980.00 257.72,974.60 261.76,971.40 265.79,976.00 269.82,985.40 273.85,986.00 277.89,976.00 281.92,977.00 285.95,975.40 289.98,977.00 294.01,975.00 298.05,979.40 302.08,980.00 306.11,984.00 310.14,987.00 314.18,985.00 318.21,979.00 322.24,977.40 326.27,976.60 330.31,982.60 334.34,981.40 338.37,976.00 342.40,973.00 346.44,971.00 350.47,974.00 354.00,976.00 354,1009.90" fill="#000000"/>
<polygon points="217,1009.90 217.00,995.50 221.43,995.90 225.46,994.90 229.50,990.90 233.53,991.90 237.56,988.90 241.59,986.30 245.63,984.90 249.66,986.30 253.69,982.90 257.72,977.90 261.76,976.30 265.79,976.90 269.82,985.90 273.85,987.50 277.89,977.90 281.92,979.20 285.95,977.90 289.98,978.90 294.01,976.90 298.05,984.90 302.08,985.90 306.11,986.90 310.14,988.90 314.18,987.50 318.21,985.50 322.24,983.50 326.27,981.90 330.31,985.90 334.34,984.90 338.37,979.90 342.40,976.90 346.44,975.50 350.47,977.50 354.00,980.90 354,1009.90" fill="#d6d8d9"/>
<polygon points="217,1009.90 217.00,996.60 221.43,997.00 225.46,996.00 229.50,992.00 233.53,993.00 237.56,990.00 241.59,987.40 245.63,986.00 249.66,987.40 253.69,984.00 257.72,979.00 261.76,977.40 265.79,978.00 269.82,987.00 273.85,988.60 277.89,979.00 281.92,980.30 285.95,979.00 289.98,980.00 294.01,978.00 298.05,986.00 302.08,987.00 306.11,988.00 310.14,990.00 314.18,988.60 318.21,986.60 322.24,984.60 326.27,983.00 330.31,987.00 334.34,986.00 338.37,981.00 342.40,978.00 346.44,976.60 350.47,978.60 354.00,982.00 354,1009.90" fill="#02517f"/>
<polygon points="217,1009.90 217.00,1008.00 221.43,1008.00 225.46,1007.40 229.50,1005.00 233.53,1007.00 237.56,1006.60 241.59,1007.00 245.63,1007.00 249.66,1006.60 253.69,1006.60 257.72,1006.00 261.76,1005.40 265.79,1005.40 269.82,1007.00 273.85,1007.00 277.89,1007.00 281.92,1007.00 285.95,1007.00 289.98,1007.00 294.01,1007.00 298.05,1007.00 302.08,1007.00 306.11,1007.00 310.14,1007.00 314.18,1007.00 318.21,1007.00 322.24,1007.00 326.27,1007.00 330.31,1007.00 334.34,1007.00 338.37,1007.00 342.40,1007.00 346.44,1007.00 350.47,1007.00 354.00,1007.00 354,1009.90" fill="#cadbe4"/>
<text x="217.4" y="1017.1" font-size="4.9" fill="#235f8c" font-weight="bold" text-anchor="middle" stroke="#235f8c" stroke-width="0.2">70</text>
<text x="237.56176470588235" y="1017.1" font-size="4.9" fill="#235f8c" font-weight="bold" text-anchor="middle" stroke="#235f8c" stroke-width="0.2">75</text>
<text x="257.72352941176473" y="1017.1" font-size="4.9" fill="#235f8c" font-weight="bold" text-anchor="middle" stroke="#235f8c" stroke-width="0.2">80</text>
<text x="277.88529411764705" y="1017.1" font-size="4.9" fill="#235f8c" font-weight="bold" text-anchor="middle" stroke="#235f8c" stroke-width="0.2">85</text>
<text x="298.0470588235294" y="1017.1" font-size="4.9" fill="#235f8c" font-weight="bold" text-anchor="middle" stroke="#235f8c" stroke-width="0.2">90</text>
<text x="318.2088235294118" y="1017.1" font-size="4.9" fill="#235f8c" font-weight="bold" text-anchor="middle" stroke="#235f8c" stroke-width="0.2">95</text>
<text x="338.3705882352941" y="1017.1" font-size="4.9" fill="#235f8c" font-weight="bold" text-anchor="middle" stroke="#235f8c" stroke-width="0.2">00</text>
<text x="354.5" y="1017.1" font-size="4.9" fill="#235f8c" font-weight="bold" text-anchor="middle" stroke="#235f8c" stroke-width="0.2">04</text>
<rect x="17" y="1028.6" width="159" height="11" fill="#02517f"/>
<text x="96.5" y="1036.5" font-size="7.4" fill="#fff" font-weight="normal" text-anchor="middle">Pacifique Sud-Ouest</text>
<text x="17" y="1052.6" font-size="6.3" fill="#111" font-weight="bold" text-anchor="start" textLength="50.3" lengthAdjust="spacingAndGlyphs">Millions de tonnes</text>
<line x1="33.4" y1="1156.5" x2="36" y2="1156.5" stroke="#b3b3b3" stroke-width="1"/>
<line x1="174" y1="1156.5" x2="176.0" y2="1156.5" stroke="#b3b3b3" stroke-width="1"/>
<text x="31.700000000000003" y="1159.0" font-size="5.1" fill="#333" font-weight="normal" text-anchor="end">0.0</text>
<line x1="33.4" y1="1136.5" x2="176.0" y2="1136.5" stroke="#b3b3b3" stroke-width="1"/>
<text x="31.700000000000003" y="1139.0" font-size="5.1" fill="#333" font-weight="normal" text-anchor="end">0.2</text>
<line x1="33.4" y1="1117.5" x2="176.0" y2="1117.5" stroke="#b3b3b3" stroke-width="1"/>
<text x="31.700000000000003" y="1120.0" font-size="5.1" fill="#333" font-weight="normal" text-anchor="end">0.4</text>
<line x1="33.4" y1="1097.5" x2="176.0" y2="1097.5" stroke="#b3b3b3" stroke-width="1"/>
<text x="31.700000000000003" y="1100.0" font-size="5.1" fill="#333" font-weight="normal" text-anchor="end">0.6</text>
<line x1="33.4" y1="1077.5" x2="176.0" y2="1077.5" stroke="#b3b3b3" stroke-width="1"/>
<text x="31.700000000000003" y="1080.0" font-size="5.1" fill="#333" font-weight="normal" text-anchor="end">0.8</text>
<line x1="33.4" y1="1058.5" x2="176.0" y2="1058.5" stroke="#b3b3b3" stroke-width="1"/>
<text x="31.700000000000003" y="1061.0" font-size="5.1" fill="#333" font-weight="normal" text-anchor="end">1.0</text>
<polygon points="36,1156.90 36.00,1143.00 39.66,1137.00 43.73,1132.40 47.79,1128.40 51.86,1125.60 55.92,1131.00 59.99,1124.40 64.05,1107.00 68.12,1123.00 72.18,1122.40 76.25,1113.60 80.31,1113.60 84.38,1113.60 88.44,1109.00 92.51,1107.60 96.57,1110.40 100.64,1098.00 104.70,1088.80 108.76,1083.00 112.83,1079.60 116.89,1075.60 120.96,1067.60 125.02,1068.00 129.09,1081.00 133.15,1082.00 137.22,1077.00 141.28,1090.00 145.35,1074.00 149.41,1072.40 153.48,1078.00 157.54,1085.60 161.61,1083.60 165.67,1081.60 169.74,1084.40 174.00,1084.40 174,1156.90" fill="#000000"/>
<polygon points="36,1156.90 36.00,1143.60 39.66,1137.60 43.73,1133.00 47.79,1129.00 51.86,1127.60 55.92,1132.00 59.99,1125.60 64.05,1109.00 68.12,1126.00 72.18,1125.00 76.25,1115.00 80.31,1114.00 84.38,1114.40 88.44,1110.00 92.51,1108.40 96.57,1111.60 100.64,1099.00 104.70,1091.00 108.76,1084.00 112.83,1080.00 116.89,1076.00 120.96,1070.00 125.02,1071.60 129.09,1084.00 133.15,1084.00 137.22,1079.60 141.28,1091.00 145.35,1075.60 149.41,1074.00 153.48,1080.00 157.54,1086.40 161.61,1086.00 165.67,1085.00 169.74,1086.00 174.00,1086.00 174,1156.90" fill="#d6d8d9"/>
<polygon points="36,1156.90 36.00,1144.20 39.66,1139.20 43.73,1135.20 47.79,1132.20 51.86,1130.20 55.92,1134.20 59.99,1129.20 64.05,1117.60 68.12,1131.20 72.18,1130.20 76.25,1123.20 80.31,1121.20 84.38,1122.80 88.44,1119.60 92.51,1120.80 96.57,1122.20 100.64,1113.20 104.70,1099.00 108.76,1094.20 112.83,1096.20 116.89,1088.20 120.96,1078.20 125.02,1081.20 129.09,1092.20 133.15,1096.20 137.22,1094.20 141.28,1101.20 145.35,1089.20 149.41,1082.20 153.48,1085.20 157.54,1092.20 161.61,1094.20 165.67,1094.80 169.74,1095.20 174.00,1099.60 174,1156.90" fill="#9b9c9d"/>
<polygon points="36,1156.90 36.00,1145.00 39.66,1140.00 43.73,1136.00 47.79,1133.00 51.86,1131.00 55.92,1135.00 59.99,1130.00 64.05,1118.40 68.12,1132.00 72.18,1131.00 76.25,1124.00 80.31,1122.00 84.38,1123.60 88.44,1120.40 92.51,1121.60 96.57,1123.00 100.64,1114.00 104.70,1099.80 108.76,1095.00 112.83,1097.00 116.89,1089.00 120.96,1079.00 125.02,1082.00 129.09,1093.00 133.15,1097.00 137.22,1095.00 141.28,1102.00 145.35,1090.00 149.41,1083.00 153.48,1086.00 157.54,1093.00 161.61,1095.00 165.67,1095.60 169.74,1096.00 174.00,1100.40 174,1156.90" fill="#02517f"/>
<polygon points="36,1156.90 36.00,1150.40 39.66,1149.00 43.73,1146.00 47.79,1143.00 51.86,1141.00 55.92,1144.00 59.99,1138.00 64.05,1128.00 68.12,1140.00 72.18,1139.00 76.25,1134.00 80.31,1130.00 84.38,1131.00 88.44,1127.60 92.51,1128.40 96.57,1129.60 100.64,1123.60 104.70,1116.00 108.76,1109.00 112.83,1112.00 116.89,1102.00 120.96,1101.60 125.02,1098.40 129.09,1105.60 133.15,1107.60 137.22,1105.00 141.28,1113.00 145.35,1100.00 149.41,1094.00 153.48,1097.00 157.54,1100.40 161.61,1104.00 165.67,1105.60 169.74,1107.00 174.00,1112.00 174,1156.90" fill="#cadbe4"/>
<text x="35.6" y="1164.1" font-size="4.9" fill="#235f8c" font-weight="bold" text-anchor="middle" stroke="#235f8c" stroke-width="0.2">70</text>
<text x="55.92352941176471" y="1164.1" font-size="4.9" fill="#235f8c" font-weight="bold" text-anchor="middle" stroke="#235f8c" stroke-width="0.2">75</text>
<text x="76.24705882352941" y="1164.1" font-size="4.9" fill="#235f8c" font-weight="bold" text-anchor="middle" stroke="#235f8c" stroke-width="0.2">80</text>
<text x="96.57058823529414" y="1164.1" font-size="4.9" fill="#235f8c" font-weight="bold" text-anchor="middle" stroke="#235f8c" stroke-width="0.2">85</text>
<text x="116.89411764705883" y="1164.1" font-size="4.9" fill="#235f8c" font-weight="bold" text-anchor="middle" stroke="#235f8c" stroke-width="0.2">90</text>
<text x="137.21764705882353" y="1164.1" font-size="4.9" fill="#235f8c" font-weight="bold" text-anchor="middle" stroke="#235f8c" stroke-width="0.2">95</text>
<text x="157.54117647058825" y="1164.1" font-size="4.9" fill="#235f8c" font-weight="bold" text-anchor="middle" stroke="#235f8c" stroke-width="0.2">00</text>
<text x="173.8" y="1164.1" font-size="4.9" fill="#235f8c" font-weight="bold" text-anchor="middle" stroke="#235f8c" stroke-width="0.2">04</text>
<rect x="199" y="1028.6" width="158" height="11" fill="#02517f"/>
<text x="278.0" y="1036.5" font-size="7.4" fill="#fff" font-weight="normal" text-anchor="middle">Pacifique Sud-Est</text>
<text x="199" y="1052.6" font-size="6.3" fill="#111" font-weight="bold" text-anchor="start" textLength="50.3" lengthAdjust="spacingAndGlyphs">Millions de tonnes</text>
<line x1="215.20000000000002" y1="1156.5" x2="217" y2="1156.5" stroke="#b3b3b3" stroke-width="1"/>
<line x1="354" y1="1156.5" x2="356.7" y2="1156.5" stroke="#b3b3b3" stroke-width="1"/>
<text x="213.5" y="1159.0" font-size="5.1" fill="#333" font-weight="normal" text-anchor="end">0</text>
<line x1="215.20000000000002" y1="1136.5" x2="356.7" y2="1136.5" stroke="#b3b3b3" stroke-width="1"/>
<text x="213.5" y="1139.0" font-size="5.1" fill="#333" font-weight="normal" text-anchor="end">5</text>
<line x1="215.20000000000002" y1="1117.5" x2="356.7" y2="1117.5" stroke="#b3b3b3" stroke-width="1"/>
<text x="213.5" y="1120.0" font-size="5.1" fill="#333" font-weight="normal" text-anchor="end">10</text>
<line x1="215.20000000000002" y1="1097.5" x2="356.7" y2="1097.5" stroke="#b3b3b3" stroke-width="1"/>
<text x="213.5" y="1100.0" font-size="5.1" fill="#333" font-weight="normal" text-anchor="end">15</text>
<line x1="215.20000000000002" y1="1077.5" x2="356.7" y2="1077.5" stroke="#b3b3b3" stroke-width="1"/>
<text x="213.5" y="1080.0" font-size="5.1" fill="#333" font-weight="normal" text-anchor="end">20</text>
<line x1="215.20000000000002" y1="1058.5" x2="356.7" y2="1058.5" stroke="#b3b3b3" stroke-width="1"/>
<text x="213.5" y="1061.0" font-size="5.1" fill="#333" font-weight="normal" text-anchor="end">25</text>
<polygon points="217,1156.90 217.00,1101.50 221.43,1107.50 225.46,1133.50 229.50,1142.50 233.53,1134.50 237.56,1137.10 241.59,1131.90 245.63,1138.50 249.66,1131.50 253.69,1126.50 257.72,1128.50 261.76,1127.10 265.79,1122.50 269.82,1129.50 273.85,1119.50 277.89,1113.50 281.92,1105.30 285.95,1112.50 289.98,1102.50 294.01,1096.50 298.05,1101.50 302.08,1100.50 306.11,1099.50 310.14,1095.50 314.18,1077.50 318.21,1089.50 322.24,1089.50 326.27,1099.50 330.31,1123.50 334.34,1100.50 338.37,1094.50 342.40,1107.50 346.44,1101.90 350.47,1115.50 354.00,1098.50 354,1156.90" fill="#000000"/>
<polygon points="217,1156.90 217.00,1102.00 221.43,1108.00 225.46,1134.00 229.50,1143.00 233.53,1135.00 237.56,1137.60 241.59,1132.40 245.63,1139.00 249.66,1132.00 253.69,1127.00 257.72,1129.00 261.76,1127.60 265.79,1123.00 269.82,1130.00 273.85,1120.00 277.89,1114.00 281.92,1105.80 285.95,1113.00 289.98,1103.00 294.01,1097.00 298.05,1102.00 302.08,1101.00 306.11,1100.00 310.14,1096.00 314.18,1078.00 318.21,1090.00 322.24,1090.00 326.27,1100.00 330.31,1124.00 334.34,1101.00 338.37,1095.00 342.40,1108.00 346.44,1102.40 350.47,1116.00 354.00,1099.00 354,1156.90" fill="#02517f"/>
<polygon points="217,1156.90 217.00,1155.00 221.43,1155.00 225.46,1155.00 229.50,1155.00 233.53,1155.00 237.56,1155.00 241.59,1155.00 245.63,1155.00 249.66,1155.00 253.69,1155.00 257.72,1155.00 261.76,1155.00 265.79,1155.00 269.82,1155.00 273.85,1155.00 277.89,1155.00 281.92,1155.00 285.95,1155.00 289.98,1155.00 294.01,1154.60 298.05,1154.60 302.08,1154.60 306.11,1154.40 310.14,1154.40 314.18,1154.00 318.21,1154.00 322.24,1153.60 326.27,1154.40 330.31,1154.40 334.34,1154.40 338.37,1154.40 342.40,1154.60 346.44,1154.60 350.47,1154.60 354.00,1154.60 354,1156.90" fill="#cadbe4"/>
<text x="217.4" y="1164.1" font-size="4.9" fill="#235f8c" font-weight="bold" text-anchor="middle" stroke="#235f8c" stroke-width="0.2">70</text>
<text x="237.56176470588235" y="1164.1" font-size="4.9" fill="#235f8c" font-weight="bold" text-anchor="middle" stroke="#235f8c" stroke-width="0.2">75</text>
<text x="257.72352941176473" y="1164.1" font-size="4.9" fill="#235f8c" font-weight="bold" text-anchor="middle" stroke="#235f8c" stroke-width="0.2">80</text>
<text x="277.88529411764705" y="1164.1" font-size="4.9" fill="#235f8c" font-weight="bold" text-anchor="middle" stroke="#235f8c" stroke-width="0.2">85</text>
<text x="298.0470588235294" y="1164.1" font-size="4.9" fill="#235f8c" font-weight="bold" text-anchor="middle" stroke="#235f8c" stroke-width="0.2">90</text>
<text x="318.2088235294118" y="1164.1" font-size="4.9" fill="#235f8c" font-weight="bold" text-anchor="middle" stroke="#235f8c" stroke-width="0.2">95</text>
<text x="338.3705882352941" y="1164.1" font-size="4.9" fill="#235f8c" font-weight="bold" text-anchor="middle" stroke="#235f8c" stroke-width="0.2">00</text>
<text x="354.5" y="1164.1" font-size="4.9" fill="#235f8c" font-weight="bold" text-anchor="middle" stroke="#235f8c" stroke-width="0.2">04</text>
<rect x="17" y="1176.0" width="159" height="11" fill="#02517f"/>
<text x="96.5" y="1183.9" font-size="7.4" fill="#fff" font-weight="normal" text-anchor="middle">Méditerranée et mer Noire</text>
<text x="17" y="1200.0" font-size="6.3" fill="#111" font-weight="bold" text-anchor="start" textLength="50.3" lengthAdjust="spacingAndGlyphs">Millions de tonnes</text>
<line x1="33.4" y1="1303.5" x2="36" y2="1303.5" stroke="#b3b3b3" stroke-width="1"/>
<line x1="174" y1="1303.5" x2="176.2" y2="1303.5" stroke="#b3b3b3" stroke-width="1"/>
<text x="31.700000000000003" y="1306.0" font-size="5.1" fill="#333" font-weight="normal" text-anchor="end">0</text>
<line x1="33.4" y1="1284.5" x2="176.2" y2="1284.5" stroke="#b3b3b3" stroke-width="1"/>
<text x="31.700000000000003" y="1287.0" font-size="5.1" fill="#333" font-weight="normal" text-anchor="end">1</text>
<line x1="33.4" y1="1264.5" x2="176.2" y2="1264.5" stroke="#b3b3b3" stroke-width="1"/>
<text x="31.700000000000003" y="1267.0" font-size="5.1" fill="#333" font-weight="normal" text-anchor="end">2</text>
<line x1="33.4" y1="1244.5" x2="176.2" y2="1244.5" stroke="#b3b3b3" stroke-width="1"/>
<text x="31.700000000000003" y="1247.0" font-size="5.1" fill="#333" font-weight="normal" text-anchor="end">3</text>
<line x1="33.4" y1="1225.5" x2="176.2" y2="1225.5" stroke="#b3b3b3" stroke-width="1"/>
<text x="31.700000000000003" y="1228.0" font-size="5.1" fill="#333" font-weight="normal" text-anchor="end">4</text>
<line x1="33.4" y1="1205.5" x2="176.2" y2="1205.5" stroke="#b3b3b3" stroke-width="1"/>
<text x="31.700000000000003" y="1208.0" font-size="5.1" fill="#333" font-weight="normal" text-anchor="end">5</text>
<polygon points="36,1304.30 36.00,1282.00 39.67,1282.40 43.74,1281.60 47.81,1281.60 51.88,1280.00 55.95,1279.60 60.02,1280.00 64.09,1278.40 68.16,1281.00 72.24,1278.00 76.31,1274.00 80.38,1270.60 84.45,1268.00 88.52,1266.60 92.59,1265.40 96.66,1265.40 100.73,1266.00 104.80,1266.00 108.87,1264.00 112.94,1272.00 117.01,1277.00 121.08,1279.00 125.15,1275.00 129.22,1273.40 133.29,1271.40 137.36,1270.00 141.44,1274.00 145.51,1275.60 149.58,1276.40 153.65,1273.60 157.72,1274.00 161.79,1272.40 165.86,1273.00 169.93,1274.40 174.00,1273.60 174,1304.30" fill="#000000"/>
<polygon points="36,1304.30 36.00,1285.90 39.67,1285.30 43.74,1285.30 47.81,1284.70 51.88,1285.30 55.95,1282.30 60.02,1284.70 64.09,1280.70 68.16,1283.30 72.24,1279.30 76.31,1275.70 80.38,1272.90 84.45,1271.30 88.52,1270.30 92.59,1269.30 96.66,1269.70 100.73,1270.30 104.80,1270.90 108.87,1268.30 112.94,1275.30 117.01,1280.30 121.08,1282.30 125.15,1278.90 129.22,1277.30 133.29,1275.30 137.36,1274.30 141.44,1277.30 145.51,1278.30 149.58,1278.70 153.65,1276.30 157.72,1276.70 161.79,1276.30 165.86,1276.30 169.93,1277.30 174.00,1276.70 174,1304.30" fill="#d6d8d9"/>
<polygon points="36,1304.30 36.00,1286.80 39.67,1286.20 43.74,1286.20 47.81,1285.60 51.88,1286.20 55.95,1283.20 60.02,1285.60 64.09,1281.60 68.16,1284.20 72.24,1280.20 76.31,1276.60 80.38,1273.80 84.45,1272.20 88.52,1271.20 92.59,1270.20 96.66,1270.60 100.73,1271.20 104.80,1271.80 108.87,1269.20 112.94,1276.20 117.01,1281.20 121.08,1283.20 125.15,1279.80 129.22,1278.20 133.29,1276.20 137.36,1275.20 141.44,1278.20 145.51,1279.20 149.58,1279.60 153.65,1277.20 157.72,1277.60 161.79,1277.20 165.86,1277.20 169.93,1278.20 174.00,1277.60 174,1304.30" fill="#9b9c9d"/>
<polygon points="36,1304.30 36.00,1287.60 39.67,1287.00 43.74,1287.00 47.81,1286.40 51.88,1287.00 55.95,1284.00 60.02,1286.40 64.09,1282.40 68.16,1285.00 72.24,1281.00 76.31,1277.40 80.38,1274.60 84.45,1273.00 88.52,1272.00 92.59,1271.00 96.66,1271.40 100.73,1272.00 104.80,1272.60 108.87,1270.00 112.94,1277.00 117.01,1282.00 121.08,1284.00 125.15,1280.60 129.22,1279.00 133.29,1277.00 137.36,1276.00 141.44,1279.00 145.51,1280.00 149.58,1280.40 153.65,1278.00 157.72,1278.40 161.79,1278.00 165.86,1278.00 169.93,1279.00 174.00,1278.40 174,1304.30" fill="#02517f"/>
<polygon points="36,1304.30 36.00,1299.60 39.67,1299.60 43.74,1299.60 47.81,1299.60 51.88,1299.20 55.95,1299.00 60.02,1299.20 64.09,1298.80 68.16,1298.40 72.24,1298.40 76.31,1298.00 80.38,1298.00 84.45,1298.40 88.52,1298.40 92.59,1298.00 96.66,1297.60 100.73,1297.60 104.80,1297.60 108.87,1297.60 112.94,1297.60 117.01,1297.60 121.08,1297.60 125.15,1297.20 129.22,1297.00 133.29,1296.80 137.36,1297.00 141.44,1297.20 145.51,1297.60 149.58,1297.60 153.65,1298.00 157.72,1298.00 161.79,1298.40 165.86,1298.40 169.93,1298.80 174.00,1298.80 174,1304.30" fill="#cadbe4"/>
<text x="35.6" y="1311.5" font-size="4.9" fill="#235f8c" font-weight="bold" text-anchor="middle" stroke="#235f8c" stroke-width="0.2">70</text>
<text x="55.95294117647059" y="1311.5" font-size="4.9" fill="#235f8c" font-weight="bold" text-anchor="middle" stroke="#235f8c" stroke-width="0.2">75</text>
<text x="76.30588235294118" y="1311.5" font-size="4.9" fill="#235f8c" font-weight="bold" text-anchor="middle" stroke="#235f8c" stroke-width="0.2">80</text>
<text x="96.65882352941176" y="1311.5" font-size="4.9" fill="#235f8c" font-weight="bold" text-anchor="middle" stroke="#235f8c" stroke-width="0.2">85</text>
<text x="117.01176470588234" y="1311.5" font-size="4.9" fill="#235f8c" font-weight="bold" text-anchor="middle" stroke="#235f8c" stroke-width="0.2">90</text>
<text x="137.36470588235295" y="1311.5" font-size="4.9" fill="#235f8c" font-weight="bold" text-anchor="middle" stroke="#235f8c" stroke-width="0.2">95</text>
<text x="157.71764705882353" y="1311.5" font-size="4.9" fill="#235f8c" font-weight="bold" text-anchor="middle" stroke="#235f8c" stroke-width="0.2">00</text>
<text x="174.0" y="1311.5" font-size="4.9" fill="#235f8c" font-weight="bold" text-anchor="middle" stroke="#235f8c" stroke-width="0.2">04</text>
<rect x="199" y="1176.0" width="158" height="11" fill="#02517f"/>
<text x="278.0" y="1183.9" font-size="7.4" fill="#fff" font-weight="normal" text-anchor="middle">Mers australes</text>
<text x="199" y="1200.0" font-size="6.3" fill="#111" font-weight="bold" text-anchor="start" textLength="50.3" lengthAdjust="spacingAndGlyphs">Millions de tonnes</text>
<line x1="215.20000000000002" y1="1303.5" x2="217" y2="1303.5" stroke="#b3b3b3" stroke-width="1"/>
<line x1="354" y1="1303.5" x2="356.7" y2="1303.5" stroke="#b3b3b3" stroke-width="1"/>
<text x="213.5" y="1306.0" font-size="5.1" fill="#333" font-weight="normal" text-anchor="end">0.0</text>
<line x1="215.20000000000002" y1="1279.5" x2="356.7" y2="1279.5" stroke="#b3b3b3" stroke-width="1"/>
<text x="213.5" y="1282.0" font-size="5.1" fill="#333" font-weight="normal" text-anchor="end">0.2</text>
<line x1="215.20000000000002" y1="1254.5" x2="356.7" y2="1254.5" stroke="#b3b3b3" stroke-width="1"/>
<text x="213.5" y="1257.0" font-size="5.1" fill="#333" font-weight="normal" text-anchor="end">0.4</text>
<line x1="215.20000000000002" y1="1230.5" x2="356.7" y2="1230.5" stroke="#b3b3b3" stroke-width="1"/>
<text x="213.5" y="1233.0" font-size="5.1" fill="#333" font-weight="normal" text-anchor="end">0.6</text>
<line x1="215.20000000000002" y1="1205.5" x2="356.7" y2="1205.5" stroke="#b3b3b3" stroke-width="1"/>
<text x="213.5" y="1208.0" font-size="5.1" fill="#333" font-weight="normal" text-anchor="end">0.8</text>
<polygon points="217,1304.30 217.00,1254.10 221.43,1275.10 225.46,1279.10 229.50,1300.00 233.53,1295.00 237.56,1294.00 241.59,1294.40 245.63,1283.10 249.66,1247.10 253.69,1248.10 257.72,1230.10 261.76,1234.10 265.79,1222.10 269.82,1239.10 273.85,1275.00 277.89,1262.00 281.92,1246.00 285.95,1237.00 289.98,1242.00 294.01,1252.00 298.05,1242.00 302.08,1255.00 306.11,1274.00 310.14,1294.00 314.18,1291.00 318.21,1286.00 322.24,1291.00 326.27,1293.00 330.31,1291.00 334.34,1289.00 338.37,1287.00 342.40,1289.00 346.44,1286.00 350.47,1286.40 354.00,1287.00 354,1304.30" fill="#000000"/>
<polygon points="217,1304.30 217.00,1255.00 221.43,1276.00 225.46,1280.00 229.50,1300.00 233.53,1295.00 237.56,1294.00 241.59,1294.40 245.63,1284.00 249.66,1248.00 253.69,1249.00 257.72,1231.00 261.76,1235.00 265.79,1223.00 269.82,1240.00 273.85,1275.00 277.89,1262.00 281.92,1246.00 285.95,1237.00 289.98,1242.00 294.01,1252.00 298.05,1242.00 302.08,1255.00 306.11,1274.00 310.14,1294.00 314.18,1291.00 318.21,1286.00 322.24,1291.00 326.27,1293.00 330.31,1291.00 334.34,1289.00 338.37,1287.00 342.40,1289.00 346.44,1286.00 350.47,1286.40 354.00,1287.00 354,1304.30" fill="#5087ad"/>
<polygon points="217,1304.30 217.00,1255.00 221.43,1276.00 225.46,1280.00 229.50,1300.00 233.53,1297.60 237.56,1299.00 241.59,1297.00 245.63,1284.00 249.66,1267.00 253.69,1290.00 257.72,1289.60 261.76,1291.00 265.79,1287.00 269.82,1275.00 273.85,1291.00 277.89,1297.00 281.92,1294.50 285.95,1290.00 289.98,1290.40 294.01,1295.00 298.05,1292.00 302.08,1295.00 306.11,1302.00 310.14,1303.00 314.18,1302.40 318.21,1302.40 322.24,1302.00 326.27,1302.00 330.31,1301.60 334.34,1301.60 338.37,1301.60 342.40,1301.20 346.44,1301.00 350.47,1301.00 354.00,1301.00 354,1304.30" fill="#cadbe4"/>
<text x="217.4" y="1311.5" font-size="4.9" fill="#235f8c" font-weight="bold" text-anchor="middle" stroke="#235f8c" stroke-width="0.2">70</text>
<text x="237.56176470588235" y="1311.5" font-size="4.9" fill="#235f8c" font-weight="bold" text-anchor="middle" stroke="#235f8c" stroke-width="0.2">75</text>
<text x="257.72352941176473" y="1311.5" font-size="4.9" fill="#235f8c" font-weight="bold" text-anchor="middle" stroke="#235f8c" stroke-width="0.2">80</text>
<text x="277.88529411764705" y="1311.5" font-size="4.9" fill="#235f8c" font-weight="bold" text-anchor="middle" stroke="#235f8c" stroke-width="0.2">85</text>
<text x="298.0470588235294" y="1311.5" font-size="4.9" fill="#235f8c" font-weight="bold" text-anchor="middle" stroke="#235f8c" stroke-width="0.2">90</text>
<text x="318.2088235294118" y="1311.5" font-size="4.9" fill="#235f8c" font-weight="bold" text-anchor="middle" stroke="#235f8c" stroke-width="0.2">95</text>
<text x="338.3705882352941" y="1311.5" font-size="4.9" fill="#235f8c" font-weight="bold" text-anchor="middle" stroke="#235f8c" stroke-width="0.2">00</text>
<text x="354.5" y="1311.5" font-size="4.9" fill="#235f8c" font-weight="bold" text-anchor="middle" stroke="#235f8c" stroke-width="0.2">04</text>
<text x="17" y="1354.4" font-size="6.3" fill="#111" textLength="320.6" lengthAdjust="spacingAndGlyphs"><tspan font-style="italic">Notes</tspan>: Les données ne tiennent pas compte des plantes aquatiques, ni des captures de mammifères marins, éponges</text>
<text x="17" y="1361.2" font-size="6.3" fill="#111" textLength="102.5" lengthAdjust="spacingAndGlyphs">et coraux, etc.; NCA = non compris ailleurs.</text>
</svg>
</body></html>
